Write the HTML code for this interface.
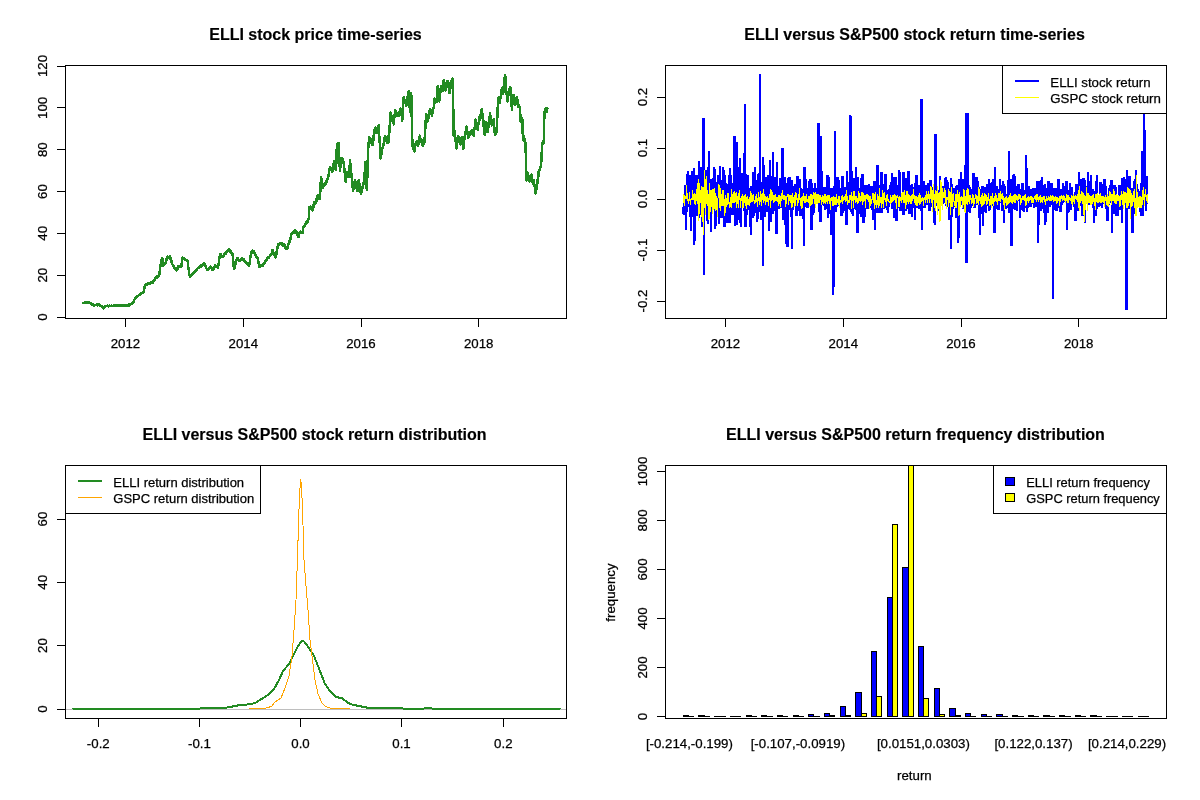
<!DOCTYPE html>
<html><head><meta charset="utf-8"><title>ELLI versus S&amp;P500</title>
<style>html,body{margin:0;padding:0;background:#fff}svg{display:block}text{font-family:"Liberation Sans", Arial, sans-serif;font-size:13.28px;fill:#000;stroke:#000;stroke-width:0.25px}.t{font-size:16px;font-weight:bold;text-anchor:middle;stroke-width:0.15px}.m{text-anchor:middle}.ax{stroke:#000;stroke-width:1;fill:none;shape-rendering:crispEdges}.cr{shape-rendering:crispEdges;fill:none;stroke-linejoin:round;stroke-linecap:round}.bv{stroke-linejoin:bevel;stroke-linecap:butt}</style></head><body>
<svg width="1200" height="800" viewBox="0 0 1200 800">
<rect width="1200" height="800" fill="#fff"/>
<text class="t" x="315.5" y="39.5">ELLI stock price time-series</text>
<path class="cr" stroke="#228B22" stroke-width="2.5" d="M83.1 303.3 83.3 302.8 83.6 302.9 83.8 302.9 84.0 302.7 84.3 302.8 84.5 302.8 84.7 302.4 85.0 303.0 85.2 302.9 85.4 302.6 85.7 302.7 85.9 302.8 86.2 302.6 86.4 302.6 86.6 302.3 86.9 302.8 87.1 302.6 87.3 302.7 87.6 302.2 87.8 302.9 88.0 302.6 88.3 302.4 88.5 303.0 88.7 302.5 89.0 302.3 89.2 302.6 89.4 302.3 89.7 303.2 89.9 303.0 90.1 303.0 90.4 303.6 90.6 303.1 90.9 303.7 91.1 303.2 91.3 303.6 91.6 303.6 91.8 304.3 92.0 304.5 92.3 304.2 92.5 304.6 92.7 304.5 93.0 304.7 93.2 304.6 93.4 304.5 93.7 304.6 93.9 305.1 94.1 305.5 94.4 305.1 94.6 304.9 94.8 305.4 95.1 305.1 95.3 305.0 95.6 305.1 95.8 305.0 96.0 304.9 96.3 304.7 96.5 305.1 96.7 305.0 97.0 305.3 97.2 304.9 97.4 304.6 97.7 305.0 97.9 305.4 98.1 304.9 98.4 304.8 98.6 304.7 98.8 304.8 99.1 304.9 99.3 304.7 99.5 305.3 99.8 304.9 100.0 305.0 100.3 305.5 100.5 305.7 100.7 305.6 101.0 305.9 101.2 306.1 101.4 306.1 101.7 306.0 101.9 306.7 102.1 306.9 102.4 307.0 102.6 307.0 102.8 307.3 103.1 307.4 103.3 307.7 103.5 308.2 103.8 308.4 104.0 307.9 104.2 307.6 104.5 307.4 104.7 307.0 105.0 306.7 105.2 306.3 105.4 306.2 105.7 306.5 105.9 306.2 106.1 305.9 106.4 305.9 106.6 305.8 106.8 306.1 107.1 306.1 107.3 305.7 107.5 306.1 107.8 305.8 108.0 306.2 108.2 306.0 108.5 306.3 108.7 305.8 108.9 305.9 109.2 306.0 109.4 306.1 109.7 306.0 109.9 305.7 110.1 305.9 110.4 305.9 110.6 305.8 110.8 305.8 111.1 306.2 111.3 305.8 111.5 305.7 111.8 306.0 112.0 305.9 112.2 305.8 112.5 306.0 112.7 306.0 112.9 305.9 113.2 306.0 113.4 305.9 113.6 305.7 113.9 305.8 114.1 305.7 114.4 305.9 114.6 305.6 114.8 305.4 115.1 305.8 115.3 305.5 115.5 305.4 115.8 305.9 116.0 305.6 116.2 305.9 116.5 305.7 116.7 305.5 116.9 305.5 117.2 305.6 117.4 305.7 117.6 305.6 117.9 305.7 118.1 305.4 118.3 305.7 118.6 305.3 118.8 305.6 119.1 305.8 119.3 305.9 119.5 306.0 119.8 305.3 120.0 305.8 120.2 305.8 120.5 305.8 120.7 305.4 120.9 305.6 121.2 305.9 121.4 305.2 121.6 305.6 121.9 305.7 122.1 305.3 122.3 305.6 122.6 305.2 122.8 305.3 123.0 305.2 123.3 305.4 123.5 305.4 123.8 305.6 124.0 305.2 124.2 305.3 124.5 305.5 124.7 305.4 124.9 305.0 125.2 305.4 125.4 305.2 125.6 305.3 125.9 305.3 126.1 305.5 126.3 305.2 126.6 304.8 126.8 304.9 127.0 305.3 127.3 305.1 127.5 305.4 127.7 305.2 128.0 305.0 128.2 305.3 128.5 304.9 128.7 304.6 128.9 305.5 129.2 304.6 129.4 305.2 129.6 305.2 129.9 305.0 130.1 304.6 130.3 304.9 130.6 304.2 130.8 304.0 131.0 304.1 131.3 304.1 131.5 303.8 131.7 303.7 132.0 303.3 132.2 303.1 132.4 302.7 132.7 302.7 132.9 302.7 133.2 302.3 133.4 302.3 133.6 301.9 133.9 301.3 134.1 300.6 134.3 299.6 134.6 299.4 134.8 299.0 135.0 299.2 135.3 298.5 135.5 298.2 135.7 297.8 136.0 297.8 136.2 297.7 136.4 297.1 136.7 297.1 136.9 297.0 137.1 296.6 137.4 296.2 137.6 296.4 137.9 295.9 138.1 295.8 138.3 295.7 138.6 295.5 138.8 294.9 139.0 294.7 139.3 294.8 139.5 294.5 139.7 293.9 140.0 294.6 140.2 294.1 140.4 294.2 140.7 293.5 140.9 294.0 141.1 293.4 141.4 293.3 141.6 292.8 141.8 293.0 142.1 292.9 142.3 292.7 142.6 292.8 142.8 292.5 143.0 292.6 143.3 292.1 143.5 291.8 143.7 291.9 144.0 290.9 144.2 289.8 144.4 288.4 144.7 286.3 144.9 285.6 145.1 285.4 145.4 284.9 145.6 284.6 145.8 284.8 146.1 284.5 146.3 284.8 146.5 284.5 146.8 284.9 147.0 284.5 147.3 284.0 147.5 284.4 147.7 284.4 148.0 283.8 148.2 283.8 148.4 283.1 148.7 284.1 148.9 283.5 149.1 282.9 149.4 283.0 149.6 283.4 149.8 283.6 150.1 283.3 150.3 283.4 150.5 282.8 150.8 282.6 151.0 283.3 151.2 283.1 151.5 282.8 151.7 283.2 152.0 282.4 152.2 282.5 152.4 282.9 152.7 282.9 152.9 282.0 153.1 282.2 153.4 281.1 153.6 281.1 153.8 280.7 154.1 279.9 154.3 280.2 154.5 280.1 154.8 279.4 155.0 279.1 155.2 279.3 155.5 278.1 155.7 277.7 155.9 277.7 156.2 277.2 156.4 277.8 156.7 277.3 156.9 276.7 157.1 276.6 157.4 277.7 157.6 276.2 157.8 276.0 158.1 276.2 158.3 276.1 158.5 275.8 158.8 275.2 159.0 274.9 159.2 275.3 159.5 274.2 159.7 271.2 159.9 269.9 160.2 267.3 160.4 265.5 160.6 264.5 160.9 263.8 161.1 262.4 161.4 261.2 161.6 260.9 161.8 259.2 162.1 259.1 162.3 257.9 162.5 260.7 162.8 263.0 163.0 266.0 163.2 265.6 163.5 265.1 163.7 265.1 163.9 264.5 164.2 264.4 164.4 264.5 164.6 264.3 164.9 264.3 165.1 262.9 165.3 264.0 165.6 263.4 165.8 261.8 166.1 260.1 166.3 260.4 166.5 259.8 166.8 258.0 167.0 258.4 167.2 257.6 167.5 256.6 167.7 257.2 167.9 257.5 168.2 256.8 168.4 257.2 168.6 256.9 168.9 256.9 169.1 257.3 169.3 257.6 169.6 257.1 169.8 256.4 170.0 257.9 170.3 257.5 170.5 258.9 170.8 260.3 171.0 260.1 171.2 260.2 171.5 260.7 171.7 262.5 171.9 262.6 172.2 263.5 172.4 264.3 172.6 264.5 172.9 265.0 173.1 265.4 173.3 265.1 173.6 266.4 173.8 267.5 174.0 267.7 174.3 268.1 174.5 268.1 174.7 268.4 175.0 268.8 175.2 268.3 175.5 268.7 175.7 268.4 175.9 269.6 176.2 269.4 176.4 269.8 176.6 270.4 176.9 270.4 177.1 269.6 177.3 269.4 177.6 268.1 177.8 268.3 178.0 267.7 178.3 266.5 178.5 267.3 178.7 266.0 179.0 266.6 179.2 266.2 179.4 266.8 179.7 267.0 179.9 266.2 180.2 266.0 180.4 266.6 180.6 267.1 180.9 266.6 181.1 266.6 181.3 266.5 181.6 263.5 181.8 262.7 182.0 260.8 182.3 259.9 182.5 257.8 182.7 257.7 183.0 258.2 183.2 257.8 183.4 258.6 183.7 258.4 183.9 258.6 184.1 258.6 184.4 259.5 184.6 259.1 184.9 259.5 185.1 259.6 185.3 259.1 185.6 259.9 185.8 259.9 186.0 260.0 186.3 259.8 186.5 259.9 186.7 260.6 187.0 261.3 187.2 260.1 187.4 260.8 187.7 261.8 187.9 264.0 188.1 265.7 188.4 267.7 188.6 267.9 188.8 270.6 189.1 272.2 189.3 274.4 189.6 275.1 189.8 275.6 190.0 276.5 190.3 276.7 190.5 274.8 190.7 275.5 191.0 275.6 191.2 275.2 191.4 274.9 191.7 274.3 191.9 274.3 192.1 274.7 192.4 274.7 192.6 274.1 192.8 273.5 193.1 273.7 193.3 273.4 193.5 273.5 193.8 273.1 194.0 272.6 194.3 272.6 194.5 271.8 194.7 272.3 195.0 272.2 195.2 271.0 195.4 271.3 195.7 270.5 195.9 271.1 196.1 270.7 196.4 270.0 196.6 270.2 196.8 269.4 197.1 269.0 197.3 268.8 197.5 268.7 197.8 268.3 198.0 268.3 198.2 267.7 198.5 268.1 198.7 268.1 199.0 267.3 199.2 266.8 199.4 267.5 199.7 267.5 199.9 266.8 200.1 266.2 200.4 266.6 200.6 267.0 200.8 265.4 201.1 266.2 201.3 265.8 201.5 265.4 201.8 265.8 202.0 264.9 202.2 265.4 202.5 265.6 202.7 265.0 202.9 264.4 203.2 263.8 203.4 263.9 203.7 263.5 203.9 264.8 204.1 263.8 204.4 263.3 204.6 263.6 204.8 264.2 205.1 264.9 205.3 265.0 205.5 266.7 205.8 266.2 206.0 266.7 206.2 267.6 206.5 268.5 206.7 268.9 206.9 268.7 207.2 269.5 207.4 269.9 207.6 270.1 207.9 269.7 208.1 269.0 208.4 268.6 208.6 269.0 208.8 268.2 209.1 269.0 209.3 268.2 209.5 267.6 209.8 267.6 210.0 267.3 210.2 267.2 210.5 267.4 210.7 266.5 210.9 266.7 211.2 268.0 211.4 268.1 211.6 268.7 211.9 269.2 212.1 269.3 212.3 270.1 212.6 269.5 212.8 269.6 213.1 268.9 213.3 268.4 213.5 268.8 213.8 268.4 214.0 267.1 214.2 267.1 214.5 267.3 214.7 267.3 214.9 266.3 215.2 266.1 215.4 265.3 215.6 266.7 215.9 266.0 216.1 266.4 216.3 266.4 216.6 266.7 216.8 266.8 217.0 266.6 217.3 267.2 217.5 267.1 217.8 267.8 218.0 267.1 218.2 266.4 218.5 265.2 218.7 263.7 218.9 261.6 219.2 259.5 219.4 258.0 219.6 256.2 219.9 255.6 220.1 254.3 220.3 254.8 220.6 254.6 220.8 254.5 221.0 255.6 221.3 256.1 221.5 255.9 221.7 255.9 222.0 256.8 222.2 256.4 222.5 257.2 222.7 256.3 222.9 255.9 223.2 256.4 223.4 256.0 223.6 256.4 223.9 255.1 224.1 255.0 224.3 254.2 224.6 253.5 224.8 253.3 225.0 254.1 225.3 253.0 225.5 253.8 225.7 253.7 226.0 252.6 226.2 253.3 226.4 252.3 226.7 252.4 226.9 251.5 227.2 251.8 227.4 250.6 227.6 251.1 227.9 250.2 228.1 250.1 228.3 250.2 228.6 249.7 228.8 249.4 229.0 250.1 229.3 250.4 229.5 249.6 229.7 250.8 230.0 251.2 230.2 250.7 230.4 251.6 230.7 251.0 230.9 252.6 231.1 252.1 231.4 252.4 231.6 253.3 231.9 252.9 232.1 253.6 232.3 253.0 232.6 254.1 232.8 256.0 233.0 258.8 233.3 261.7 233.5 263.6 233.7 266.2 234.0 267.7 234.2 268.6 234.4 267.8 234.7 267.3 234.9 266.3 235.1 265.2 235.4 264.5 235.6 263.2 235.8 262.3 236.1 262.0 236.3 260.2 236.6 259.6 236.8 259.3 237.0 258.3 237.3 258.9 237.5 258.6 237.7 260.0 238.0 258.4 238.2 259.2 238.4 259.6 238.7 261.1 238.9 260.8 239.1 260.8 239.4 260.6 239.6 261.2 239.8 260.9 240.1 260.4 240.3 259.8 240.5 259.8 240.8 260.2 241.0 260.1 241.3 259.8 241.5 259.5 241.7 258.6 242.0 259.2 242.2 258.5 242.4 258.8 242.7 259.2 242.9 258.9 243.1 259.0 243.4 260.2 243.6 260.2 243.8 260.0 244.1 259.2 244.3 260.8 244.5 261.4 244.8 261.9 245.0 261.4 245.2 261.7 245.5 262.0 245.7 262.9 246.0 262.2 246.2 263.0 246.4 262.8 246.7 263.5 246.9 262.8 247.1 263.8 247.4 263.6 247.6 263.8 247.8 264.3 248.1 264.7 248.3 263.6 248.5 264.9 248.8 264.9 249.0 264.6 249.2 265.5 249.5 264.5 249.7 263.1 249.9 260.4 250.2 258.5 250.4 257.6 250.7 256.2 250.9 253.7 251.1 252.9 251.4 252.1 251.6 251.5 251.8 251.9 252.1 252.6 252.3 250.8 252.5 251.3 252.8 250.5 253.0 251.4 253.2 251.9 253.5 251.2 253.7 252.0 253.9 253.2 254.2 252.9 254.4 252.7 254.6 253.0 254.9 253.1 255.1 254.8 255.4 254.4 255.6 255.6 255.8 255.9 256.1 255.5 256.3 256.0 256.5 257.0 256.8 257.0 257.0 257.4 257.2 256.9 257.5 258.5 257.7 258.6 257.9 259.0 258.2 260.7 258.4 262.2 258.6 263.9 258.9 263.9 259.1 264.5 259.3 266.9 259.6 266.3 259.8 266.0 260.1 265.6 260.3 265.5 260.5 266.5 260.8 265.7 261.0 265.5 261.2 265.4 261.5 266.2 261.7 265.2 261.9 265.7 262.2 265.4 262.4 265.3 262.6 264.8 262.9 265.4 263.1 265.7 263.3 264.6 263.6 263.9 263.8 263.4 264.0 263.7 264.3 263.1 264.5 262.9 264.8 262.6 265.0 261.6 265.2 262.2 265.5 261.6 265.7 261.1 265.9 260.9 266.2 260.9 266.4 260.2 266.6 259.4 266.9 260.0 267.1 259.0 267.3 258.6 267.6 257.9 267.8 258.4 268.0 257.6 268.3 257.6 268.5 257.8 268.7 257.3 269.0 257.5 269.2 256.9 269.5 256.3 269.7 256.1 269.9 255.7 270.2 256.0 270.4 255.5 270.6 255.0 270.9 255.3 271.1 254.7 271.3 254.2 271.6 253.4 271.8 254.1 272.0 253.0 272.3 251.4 272.5 249.8 272.7 250.2 273.0 251.0 273.2 251.8 273.4 252.2 273.7 252.8 273.9 253.2 274.2 254.2 274.4 254.7 274.6 254.8 274.9 256.1 275.1 256.6 275.3 257.2 275.6 257.4 275.8 256.4 276.0 254.8 276.3 254.5 276.5 251.9 276.7 251.6 277.0 250.5 277.2 249.9 277.4 248.3 277.7 246.6 277.9 245.2 278.1 244.6 278.4 244.8 278.6 244.6 278.9 244.3 279.1 243.9 279.3 244.0 279.6 244.4 279.8 243.1 280.0 243.6 280.3 244.2 280.5 243.5 280.7 243.0 281.0 243.7 281.2 243.1 281.4 243.7 281.7 244.7 281.9 245.0 282.1 243.3 282.4 244.7 282.6 245.6 282.8 244.4 283.1 245.0 283.3 245.8 283.6 245.0 283.8 245.6 284.0 245.5 284.3 244.7 284.5 246.1 284.7 246.0 285.0 246.7 285.2 247.7 285.4 247.3 285.7 247.2 285.9 248.0 286.1 248.2 286.4 249.1 286.6 248.2 286.8 248.7 287.1 247.8 287.3 248.4 287.5 247.4 287.8 246.4 288.0 245.6 288.3 245.0 288.5 244.1 288.7 243.7 289.0 242.8 289.2 243.1 289.4 241.8 289.7 240.4 289.9 239.8 290.1 240.0 290.4 238.9 290.6 238.0 290.8 237.5 291.1 237.3 291.3 234.9 291.5 234.4 291.8 233.1 292.0 233.9 292.2 233.2 292.5 232.9 292.7 232.6 293.0 233.3 293.2 232.6 293.4 232.1 293.7 233.0 293.9 231.4 294.1 231.1 294.4 233.2 294.6 231.2 294.8 230.9 295.1 230.6 295.3 230.8 295.5 231.1 295.8 231.4 296.0 231.8 296.2 231.8 296.5 231.6 296.7 233.2 296.9 234.5 297.2 234.7 297.4 234.5 297.7 235.6 297.9 235.4 298.1 236.1 298.4 235.9 298.6 237.0 298.8 236.9 299.1 234.7 299.3 233.2 299.5 233.1 299.8 232.8 300.0 231.8 300.2 231.6 300.5 231.7 300.7 231.6 300.9 232.2 301.2 232.5 301.4 232.4 301.6 232.5 301.9 232.5 302.1 232.3 302.4 232.0 302.6 232.8 302.8 230.4 303.1 227.3 303.3 226.7 303.5 226.5 303.8 226.6 304.0 227.0 304.2 226.5 304.5 226.2 304.7 225.9 304.9 225.6 305.2 225.0 305.4 224.5 305.6 223.8 305.9 222.4 306.1 223.1 306.3 224.0 306.6 222.2 306.8 221.8 307.1 222.5 307.3 221.6 307.5 220.9 307.8 221.8 308.0 220.7 308.2 220.3 308.5 218.9 308.7 219.2 308.9 215.5 309.2 211.2 309.4 207.1 309.6 207.4 309.9 207.0 310.1 207.7 310.3 206.7 310.6 208.4 310.8 208.7 311.0 208.3 311.3 208.3 311.5 209.2 311.8 208.7 312.0 210.1 312.2 210.4 312.5 209.9 312.7 209.7 312.9 209.3 313.2 208.1 313.4 206.9 313.6 204.9 313.9 203.6 314.1 202.4 314.3 202.0 314.6 203.4 314.8 203.2 315.0 203.8 315.3 204.1 315.5 202.4 315.7 203.0 316.0 201.8 316.2 202.0 316.5 201.4 316.7 198.6 316.9 198.1 317.2 197.5 317.4 195.7 317.6 195.3 317.9 195.5 318.1 197.1 318.3 195.9 318.6 197.8 318.8 197.3 319.0 198.1 319.3 199.0 319.5 197.6 319.7 197.8 320.0 199.1 320.2 193.4 320.4 188.6 320.7 184.1 320.9 179.3 321.2 177.4 321.4 179.8 321.6 182.2 321.9 184.4 322.1 183.1 322.3 187.5 322.6 188.1 322.8 186.1 323.0 185.4 323.3 186.6 323.5 185.6 323.7 185.7 324.0 185.9 324.2 184.5 324.4 184.6 324.7 184.5 324.9 184.5 325.1 184.9 325.4 184.4 325.6 182.8 325.9 182.1 326.1 183.9 326.3 182.1 326.6 181.5 326.8 179.8 327.0 181.1 327.3 179.4 327.5 179.3 327.7 178.2 328.0 178.5 328.2 178.2 328.4 175.5 328.7 174.7 328.9 174.1 329.1 171.8 329.4 170.4 329.6 169.5 329.8 167.6 330.1 168.8 330.3 167.6 330.6 169.5 330.8 170.0 331.0 168.3 331.3 169.7 331.5 169.5 331.7 169.2 332.0 170.3 332.2 170.7 332.4 171.8 332.7 171.3 332.9 168.1 333.1 167.5 333.4 167.1 333.6 166.5 333.8 161.8 334.1 164.2 334.3 161.5 334.5 163.7 334.8 163.4 335.0 164.6 335.3 167.0 335.5 169.6 335.7 170.1 336.0 169.5 336.2 167.0 336.4 158.1 336.7 152.0 336.9 145.0 337.1 144.1 337.4 144.5 337.6 144.5 337.8 144.7 338.1 145.0 338.3 144.5 338.5 143.0 338.8 144.9 339.0 151.1 339.2 156.1 339.5 160.3 339.7 165.8 340.0 171.1 340.2 169.0 340.4 164.9 340.7 159.7 340.9 160.0 341.1 161.9 341.4 162.1 341.6 162.3 341.8 158.7 342.1 161.0 342.3 158.2 342.5 162.2 342.8 161.8 343.0 162.0 343.2 162.0 343.5 163.5 343.7 162.2 343.9 165.5 344.2 167.4 344.4 169.6 344.7 172.1 344.9 174.2 345.1 175.5 345.4 179.4 345.6 181.8 345.8 179.6 346.1 178.8 346.3 177.3 346.5 173.8 346.8 173.2 347.0 172.2 347.2 172.0 347.5 173.4 347.7 172.5 347.9 173.2 348.2 174.0 348.4 174.3 348.6 174.5 348.9 176.5 349.1 174.3 349.4 175.2 349.6 168.7 349.8 164.0 350.1 160.5 350.3 163.2 350.5 164.0 350.8 166.9 351.0 170.9 351.2 172.2 351.5 175.6 351.7 176.2 351.9 180.7 352.2 182.8 352.4 184.7 352.6 186.0 352.9 188.9 353.1 191.3 353.3 190.1 353.6 188.6 353.8 187.3 354.1 186.4 354.3 186.2 354.5 182.0 354.8 181.3 355.0 179.9 355.2 181.6 355.5 181.6 355.7 184.5 355.9 185.1 356.2 185.7 356.4 186.3 356.6 187.9 356.9 188.9 357.1 190.0 357.3 190.0 357.6 191.1 357.8 187.5 358.0 187.9 358.3 182.4 358.5 182.6 358.8 180.2 359.0 183.2 359.2 182.5 359.5 186.5 359.7 184.9 359.9 189.2 360.2 189.1 360.4 190.0 360.6 191.5 360.9 194.2 361.1 193.4 361.3 190.0 361.6 191.9 361.8 190.2 362.0 187.7 362.3 188.8 362.5 186.3 362.7 186.5 363.0 185.6 363.2 184.0 363.5 184.2 363.7 181.9 363.9 182.0 364.2 180.5 364.4 179.9 364.6 176.5 364.9 169.5 365.1 163.0 365.3 162.1 365.6 166.1 365.8 171.4 366.0 176.0 366.3 180.5 366.5 185.0 366.7 189.1 367.0 189.9 367.2 181.6 367.4 171.3 367.7 163.0 367.9 154.3 368.2 148.4 368.4 146.4 368.6 142.7 368.9 141.7 369.1 138.2 369.3 137.0 369.6 137.9 369.8 139.2 370.0 140.1 370.3 139.3 370.5 138.7 370.7 141.2 371.0 141.1 371.2 142.3 371.4 142.6 371.7 143.8 371.9 144.3 372.1 145.0 372.4 144.2 372.6 145.2 372.9 142.0 373.1 141.0 373.3 141.2 373.6 138.0 373.8 134.6 374.0 135.9 374.3 133.8 374.5 132.3 374.7 129.6 375.0 128.1 375.2 127.6 375.4 127.6 375.7 130.6 375.9 128.9 376.1 129.2 376.4 129.7 376.6 132.8 376.8 132.1 377.1 130.3 377.3 129.9 377.6 129.8 377.8 129.5 378.0 126.0 378.3 128.1 378.5 126.1 378.7 124.9 379.0 128.9 379.2 134.2 379.4 139.3 379.7 141.6 379.9 146.1 380.1 148.7 380.4 154.1 380.6 158.3 380.8 154.9 381.1 154.8 381.3 155.1 381.5 151.4 381.8 151.8 382.0 151.7 382.3 148.3 382.5 148.6 382.7 148.0 383.0 147.8 383.2 144.5 383.4 145.9 383.7 144.0 383.9 143.8 384.1 142.7 384.4 140.8 384.6 139.8 384.8 136.3 385.1 136.1 385.3 136.9 385.5 138.0 385.8 139.8 386.0 137.2 386.2 139.2 386.5 138.5 386.7 138.6 387.0 142.2 387.2 141.1 387.4 143.2 387.7 143.1 387.9 141.2 388.1 140.3 388.4 142.4 388.6 137.7 388.8 134.9 389.1 134.9 389.3 132.2 389.5 128.3 389.8 125.0 390.0 121.9 390.2 118.1 390.5 115.3 390.7 112.5 390.9 113.3 391.2 115.3 391.4 115.8 391.7 117.6 391.9 116.8 392.1 117.8 392.4 117.4 392.6 121.4 392.8 118.8 393.1 121.5 393.3 121.1 393.5 123.4 393.8 124.4 394.0 119.4 394.2 118.9 394.5 114.8 394.7 116.4 394.9 111.9 395.2 110.1 395.4 111.4 395.6 114.0 395.9 114.5 396.1 114.4 396.4 112.1 396.6 113.0 396.8 115.4 397.1 112.7 397.3 113.4 397.5 112.8 397.8 112.8 398.0 115.8 398.2 115.3 398.5 115.3 398.7 115.7 398.9 115.8 399.2 115.8 399.4 113.3 399.6 112.3 399.9 110.9 400.1 112.9 400.3 110.4 400.6 108.6 400.8 109.5 401.1 109.3 401.3 110.5 401.5 114.6 401.8 116.5 402.0 120.4 402.2 120.6 402.5 115.8 402.7 113.4 402.9 110.4 403.2 106.2 403.4 100.3 403.6 97.1 403.9 99.0 404.1 96.9 404.3 100.1 404.6 100.8 404.8 100.5 405.0 100.5 405.3 102.9 405.5 102.4 405.8 104.2 406.0 105.4 406.2 105.3 406.5 104.9 406.7 103.5 406.9 101.1 407.2 101.2 407.4 99.4 407.6 96.6 407.9 97.3 408.1 96.1 408.3 94.5 408.6 91.3 408.8 95.1 409.0 98.6 409.3 102.2 409.5 105.4 409.7 107.1 410.0 112.4 410.2 108.0 410.5 108.4 410.7 101.5 410.9 99.5 411.2 93.1 411.4 98.9 411.6 110.6 411.9 123.0 412.1 131.9 412.3 140.4 412.6 144.4 412.8 147.8 413.0 146.0 413.3 149.0 413.5 149.5 413.7 148.7 414.0 149.2 414.2 147.2 414.4 151.3 414.7 148.0 414.9 148.0 415.2 145.2 415.4 145.2 415.6 143.2 415.9 143.4 416.1 142.8 416.3 142.3 416.6 142.7 416.8 140.9 417.0 140.8 417.3 141.6 417.5 144.7 417.7 142.9 418.0 145.7 418.2 142.4 418.4 142.5 418.7 142.8 418.9 141.1 419.1 143.4 419.4 141.9 419.6 136.3 419.9 135.7 420.1 136.4 420.3 139.4 420.6 139.7 420.8 139.7 421.0 138.8 421.3 140.3 421.5 139.3 421.7 141.5 422.0 144.2 422.2 144.6 422.4 142.4 422.7 143.9 422.9 145.5 423.1 143.9 423.4 143.4 423.6 144.4 423.8 144.3 424.1 143.8 424.3 143.2 424.6 140.3 424.8 136.4 425.0 131.2 425.3 128.9 425.5 124.6 425.7 121.0 426.0 118.3 426.2 114.0 426.4 114.7 426.7 115.5 426.9 116.9 427.1 122.0 427.4 120.6 427.6 121.2 427.8 119.6 428.1 119.6 428.3 118.5 428.5 118.0 428.8 115.2 429.0 112.0 429.3 113.2 429.5 112.8 429.7 110.3 430.0 108.8 430.2 110.1 430.4 111.9 430.7 110.9 430.9 110.0 431.1 111.8 431.4 113.1 431.6 111.8 431.8 115.7 432.1 113.4 432.3 114.0 432.5 112.6 432.8 111.1 433.0 112.5 433.2 108.8 433.5 107.7 433.7 108.0 434.0 106.2 434.2 102.4 434.4 98.7 434.7 101.0 434.9 101.0 435.1 103.0 435.4 100.2 435.6 100.9 435.8 100.0 436.1 98.9 436.3 101.1 436.5 102.2 436.8 99.9 437.0 98.5 437.2 93.9 437.5 93.3 437.7 86.7 437.9 86.3 438.2 89.7 438.4 96.3 438.7 100.8 438.9 99.8 439.1 101.4 439.4 100.5 439.6 95.5 439.8 96.5 440.1 94.6 440.3 92.2 440.5 91.8 440.8 88.0 441.0 89.4 441.2 89.2 441.5 86.2 441.7 88.3 441.9 90.8 442.2 89.6 442.4 89.2 442.6 89.1 442.9 91.1 443.1 90.7 443.4 87.5 443.6 80.2 443.8 81.3 444.1 80.6 444.3 83.4 444.5 82.9 444.8 83.4 445.0 85.8 445.2 86.6 445.5 88.7 445.7 90.4 445.9 89.8 446.2 87.4 446.4 85.3 446.6 84.2 446.9 84.5 447.1 84.1 447.3 80.9 447.6 81.0 447.8 81.7 448.1 84.5 448.3 87.1 448.5 83.4 448.8 89.2 449.0 89.7 449.2 88.9 449.5 93.0 449.7 90.7 449.9 89.4 450.2 85.3 450.4 88.2 450.6 83.6 450.9 81.2 451.1 82.0 451.3 80.9 451.6 84.3 451.8 87.9 452.0 82.5 452.3 84.2 452.5 78.3 452.8 79.2 453.0 80.0 453.2 101.3 453.5 135.3 453.7 135.4 453.9 134.1 454.2 134.4 454.4 131.6 454.6 131.7 454.9 131.4 455.1 134.2 455.3 140.7 455.6 139.7 455.8 142.1 456.0 145.0 456.3 148.4 456.5 146.8 456.7 143.6 457.0 144.6 457.2 142.2 457.5 141.9 457.7 137.6 457.9 136.8 458.2 138.3 458.4 136.3 458.6 139.3 458.9 139.9 459.1 140.3 459.3 141.1 459.6 141.7 459.8 142.5 460.0 142.0 460.3 141.8 460.5 144.3 460.7 141.8 461.0 140.6 461.2 139.7 461.4 137.9 461.7 138.3 461.9 137.4 462.2 140.7 462.4 140.6 462.6 141.0 462.9 144.9 463.1 148.2 463.3 148.7 463.6 145.8 463.8 142.3 464.0 141.7 464.3 139.5 464.5 139.0 464.7 136.8 465.0 134.6 465.2 135.3 465.4 133.5 465.7 131.5 465.9 130.5 466.1 130.9 466.4 127.2 466.6 126.6 466.9 129.5 467.1 128.1 467.3 132.3 467.6 132.0 467.8 133.4 468.0 135.9 468.3 137.9 468.5 134.9 468.7 136.5 469.0 135.5 469.2 133.3 469.4 135.5 469.7 133.3 469.9 132.2 470.1 132.7 470.4 132.4 470.6 133.6 470.8 131.8 471.1 134.0 471.3 132.3 471.6 130.9 471.8 130.5 472.0 131.8 472.3 129.9 472.5 130.4 472.7 132.5 473.0 134.8 473.2 135.0 473.4 135.4 473.7 135.8 473.9 132.4 474.1 132.2 474.4 128.3 474.6 129.1 474.8 125.9 475.1 123.6 475.3 121.9 475.5 119.6 475.8 120.1 476.0 121.6 476.3 121.9 476.5 122.5 476.7 125.8 477.0 128.5 477.2 129.4 477.4 129.3 477.7 129.7 477.9 127.1 478.1 126.7 478.4 124.1 478.6 123.6 478.8 124.4 479.1 121.6 479.3 121.1 479.5 117.3 479.8 116.5 480.0 116.4 480.2 116.2 480.5 114.4 480.7 115.0 481.0 112.3 481.2 113.7 481.4 112.4 481.7 108.9 481.9 110.1 482.1 111.4 482.4 115.2 482.6 115.7 482.8 119.0 483.1 121.6 483.3 119.9 483.5 123.1 483.8 127.5 484.0 129.4 484.2 132.8 484.5 134.0 484.7 134.5 484.9 134.8 485.2 131.4 485.4 129.8 485.7 127.4 485.9 126.2 486.1 122.0 486.4 122.2 486.6 123.0 486.8 130.2 487.1 128.7 487.3 131.0 487.5 132.2 487.8 130.9 488.0 129.3 488.2 128.7 488.5 126.4 488.7 124.8 488.9 121.9 489.2 120.7 489.4 120.4 489.6 117.1 489.9 115.7 490.1 112.7 490.4 117.2 490.6 118.4 490.8 121.1 491.1 117.8 491.3 122.5 491.5 123.8 491.8 125.5 492.0 125.1 492.2 125.1 492.5 124.7 492.7 123.0 492.9 121.7 493.2 120.8 493.4 119.6 493.6 119.2 493.9 119.7 494.1 121.5 494.3 128.7 494.6 128.4 494.8 133.6 495.1 134.6 495.3 135.0 495.5 133.4 495.8 133.7 496.0 132.0 496.2 130.7 496.5 131.7 496.7 132.1 496.9 129.2 497.2 121.1 497.4 111.8 497.6 108.3 497.9 106.4 498.1 102.4 498.3 101.8 498.6 98.0 498.8 97.0 499.0 97.1 499.3 98.2 499.5 100.3 499.8 101.7 500.0 102.8 500.2 99.5 500.5 98.2 500.7 97.4 500.9 93.3 501.2 95.4 501.4 92.7 501.6 90.7 501.9 87.9 502.1 90.6 502.3 90.2 502.6 94.0 502.8 93.0 503.0 91.5 503.3 92.8 503.5 88.7 503.7 86.4 504.0 84.3 504.2 82.1 504.5 80.2 504.7 78.6 504.9 75.7 505.2 75.5 505.4 77.8 505.6 81.7 505.9 86.5 506.1 90.3 506.3 94.3 506.6 92.0 506.8 95.7 507.0 97.2 507.3 98.9 507.5 101.3 507.7 99.1 508.0 97.5 508.2 95.3 508.4 95.0 508.7 94.3 508.9 94.1 509.2 90.6 509.4 89.3 509.6 89.7 509.9 88.3 510.1 90.2 510.3 87.0 510.6 87.6 510.8 89.1 511.0 94.5 511.3 99.3 511.5 105.0 511.7 106.3 512.0 109.8 512.2 105.0 512.4 104.4 512.7 103.1 512.9 101.7 513.1 101.2 513.4 99.7 513.6 95.0 513.9 97.6 514.1 97.1 514.3 102.6 514.6 102.2 514.8 103.7 515.0 104.6 515.3 103.7 515.5 102.8 515.7 100.9 516.0 101.7 516.2 100.1 516.4 99.8 516.7 97.7 516.9 97.8 517.1 97.2 517.4 104.2 517.6 100.0 517.8 101.7 518.1 104.8 518.3 106.5 518.6 105.3 518.8 105.3 519.0 105.7 519.3 106.2 519.5 106.4 519.7 107.2 520.0 108.7 520.2 113.3 520.4 116.7 520.7 121.7 520.9 121.5 521.1 121.6 521.4 119.2 521.6 118.0 521.8 119.2 522.1 119.6 522.3 118.7 522.5 128.5 522.8 135.1 523.0 139.8 523.3 140.2 523.5 140.3 523.7 139.6 524.0 139.7 524.2 136.4 524.4 140.3 524.7 141.6 524.9 139.8 525.1 140.0 525.4 143.3 525.6 145.6 525.8 155.5 526.1 163.9 526.3 172.8 526.5 180.3 526.8 180.1 527.0 178.0 527.2 174.7 527.5 172.8 527.7 173.6 528.0 174.3 528.2 174.6 528.4 177.0 528.7 176.5 528.9 180.1 529.1 179.2 529.4 181.5 529.6 179.9 529.8 180.0 530.1 178.7 530.3 178.6 530.5 176.6 530.8 175.1 531.0 175.5 531.2 174.6 531.5 175.0 531.7 177.1 531.9 177.7 532.2 180.6 532.4 181.6 532.7 182.1 532.9 183.9 533.1 181.3 533.4 181.0 533.6 180.8 533.8 180.4 534.1 181.7 534.3 184.6 534.5 186.4 534.8 184.7 535.0 188.7 535.2 190.2 535.5 191.7 535.7 193.4 535.9 190.7 536.2 190.5 536.4 188.0 536.6 186.8 536.9 186.5 537.1 183.9 537.4 183.1 537.6 180.8 537.8 179.1 538.1 178.6 538.3 176.6 538.5 173.2 538.8 171.3 539.0 174.0 539.2 170.4 539.5 169.5 539.7 170.0 539.9 168.1 540.2 167.6 540.4 167.9 540.6 167.0 540.9 165.0 541.1 165.5 541.3 161.4 541.6 156.3 541.8 151.5 542.1 146.2 542.3 143.0 542.5 142.9 542.8 142.0 543.0 143.2 543.2 142.7 543.5 142.8 543.7 143.5 543.9 135.4 544.2 122.6 544.4 112.1 544.6 112.3 544.9 110.2 545.1 109.3 545.3 109.0 545.6 110.1 545.8 110.7 546.0 111.5 546.3 107.8 546.5 110.4 546.8 110.4 547.0 112.0 547.2 109.1 547.5 108.6"/>
<rect class="ax" x="65.5" y="65.5" width="501.0" height="253.0"/>
<path class="ax" d="M125.5 318.5v8.5M243.3 318.5v8.5M361.0 318.5v8.5M478.7 318.5v8.5"/>
<text class="m" x="125.5" y="347.5">2012</text>
<text class="m" x="243.3" y="347.5">2014</text>
<text class="m" x="361.0" y="347.5">2016</text>
<text class="m" x="478.7" y="347.5">2018</text>
<path class="ax" d="M65.5 317.0h-8.5M65.5 275.2h-8.5M65.5 233.3h-8.5M65.5 191.5h-8.5M65.5 149.7h-8.5M65.5 107.9h-8.5M65.5 66.0h-8.5"/>
<text class="m" transform="translate(46.7 317.0) rotate(-90)">0</text>
<text class="m" transform="translate(46.7 275.2) rotate(-90)">20</text>
<text class="m" transform="translate(46.7 233.3) rotate(-90)">40</text>
<text class="m" transform="translate(46.7 191.5) rotate(-90)">60</text>
<text class="m" transform="translate(46.7 149.7) rotate(-90)">80</text>
<text class="m" transform="translate(46.7 107.9) rotate(-90)">100</text>
<text class="m" transform="translate(46.7 66.0) rotate(-90)">120</text>
<text class="t" x="914.5" y="39.5">ELLI versus S&amp;P500 stock return time-series</text>
 <path class="cr bv" stroke="#0000FF" stroke-width="2.4" d="M683.3 214.3 683.5 207.0 683.8 210.3 684.0 209.3 684.2 208.3 684.5 214.7 684.7 200.2 684.9 194.3 685.2 189.3 685.4 200.2 685.7 185.3 685.9 229.7 686.1 214.8 686.4 202.0 686.6 212.1 686.8 209.4 687.1 196.9 687.3 200.5 687.5 179.4 687.8 171.3 688.0 193.6 688.2 201.2 688.5 200.7 688.7 199.3 688.9 191.4 689.2 207.0 689.4 191.2 689.6 201.8 689.9 184.4 690.1 180.1 690.4 174.7 690.6 200.8 690.8 230.5 691.1 217.6 691.3 202.3 691.5 214.7 691.8 217.3 692.0 203.0 692.2 210.0 692.5 189.3 692.7 171.0 692.9 201.6 693.2 194.7 693.4 216.8 693.6 196.6 693.9 207.0 694.1 168.3 694.3 244.7 694.6 175.4 694.8 217.5 695.1 212.9 695.3 198.9 695.5 194.9 695.8 194.8 696.0 197.5 696.2 209.4 696.5 187.5 696.7 196.2 696.9 216.0 697.2 174.6 697.4 203.0 697.6 184.5 697.9 216.2 698.1 213.1 698.3 205.8 698.6 207.2 698.8 161.3 699.0 218.4 699.3 196.5 699.5 211.2 699.8 190.9 700.0 195.8 700.2 205.6 700.5 166.9 700.7 199.5 700.9 181.7 701.2 215.0 701.4 200.4 701.6 197.6 701.9 196.8 702.1 203.1 702.3 208.9 702.6 226.5 702.8 205.8 703.0 210.0 703.3 202.0 703.5 185.4 703.7 118.3 704.0 274.7 704.2 182.8 704.5 189.0 704.7 187.4 704.9 189.5 705.2 202.0 705.4 202.7 705.6 193.6 705.9 170.3 706.1 186.4 706.3 173.3 706.6 214.4 706.8 194.5 707.0 192.4 707.3 190.5 707.5 215.3 707.7 221.0 708.0 224.4 708.2 203.5 708.5 166.9 708.7 195.2 708.9 213.3 709.2 151.3 709.4 202.3 709.6 195.9 709.9 204.1 710.1 214.3 710.3 205.0 710.6 187.3 710.8 231.7 711.0 179.2 711.3 211.5 711.5 181.9 711.7 197.5 712.0 195.4 712.2 178.6 712.4 200.0 712.7 194.3 712.9 188.2 713.2 188.0 713.4 185.3 713.6 177.8 713.9 189.8 714.1 203.6 714.3 166.9 714.6 198.5 714.8 192.1 715.0 170.3 715.3 228.7 715.5 207.5 715.7 196.9 716.0 189.6 716.2 197.5 716.4 185.4 716.7 182.2 716.9 182.3 717.1 197.8 717.4 196.6 717.6 200.6 717.9 208.6 718.1 175.3 718.3 213.1 718.6 198.9 718.8 194.3 719.0 223.9 719.3 186.1 719.5 202.2 719.7 194.3 720.0 166.3 720.2 216.6 720.4 194.7 720.7 196.2 720.9 182.1 721.1 190.3 721.4 218.4 721.6 180.4 721.8 185.2 722.1 185.7 722.3 190.1 722.6 206.5 722.8 189.4 723.0 202.4 723.3 166.9 723.5 200.8 723.7 211.4 724.0 202.1 724.2 175.1 724.4 204.8 724.7 226.5 724.9 174.7 725.1 192.6 725.4 203.9 725.6 186.5 725.8 209.1 726.1 212.1 726.3 182.8 726.6 204.2 726.8 189.4 727.0 197.6 727.3 184.7 727.5 196.1 727.7 222.6 728.0 187.1 728.2 203.7 728.4 183.9 728.7 196.0 728.9 175.5 729.1 201.8 729.4 222.7 729.6 201.8 729.8 189.8 730.1 168.3 730.3 203.6 730.5 174.7 730.8 199.8 731.0 181.3 731.3 195.5 731.5 215.3 731.7 209.3 732.0 201.8 732.2 193.0 732.4 207.7 732.7 214.9 732.9 210.2 733.1 204.3 733.4 208.6 733.6 205.0 733.8 168.8 734.1 193.5 734.3 136.3 734.5 198.0 734.8 173.2 735.0 187.8 735.2 225.5 735.5 214.2 735.7 218.3 736.0 202.1 736.2 199.3 736.4 217.4 736.7 141.7 736.9 198.6 737.1 224.5 737.4 218.6 737.6 198.7 737.8 189.2 738.1 193.0 738.3 182.4 738.5 173.4 738.8 184.0 739.0 201.2 739.2 166.9 739.5 171.7 739.7 183.3 739.9 158.3 740.2 191.6 740.4 222.9 740.7 202.0 740.9 226.5 741.1 203.0 741.4 181.9 741.6 197.5 741.8 172.7 742.1 197.8 742.3 196.2 742.5 201.5 742.8 189.5 743.0 198.3 743.2 179.1 743.5 172.7 743.7 191.9 743.9 211.2 744.2 189.0 744.4 176.7 744.6 187.6 744.9 104.2 745.1 183.1 745.4 177.2 745.6 226.5 745.8 174.1 746.1 185.6 746.3 190.2 746.5 204.4 746.8 194.1 747.0 188.2 747.2 215.3 747.5 186.0 747.7 196.5 747.9 174.9 748.2 187.1 748.4 199.9 748.6 196.7 748.9 187.7 749.1 195.3 749.4 189.1 749.6 206.2 749.8 212.5 750.1 204.5 750.3 214.6 750.5 206.9 750.8 235.3 751.0 217.0 751.2 212.3 751.5 186.3 751.7 204.0 751.9 197.7 752.2 212.3 752.4 210.1 752.6 201.3 752.9 172.5 753.1 190.8 753.3 217.5 753.6 190.7 753.8 183.4 754.1 187.0 754.3 212.1 754.5 198.6 754.8 166.9 755.0 208.7 755.2 192.5 755.5 206.6 755.7 212.7 755.9 202.8 756.2 181.8 756.4 179.8 756.6 208.1 756.9 203.3 757.1 208.2 757.3 222.1 757.6 188.3 757.8 173.7 758.0 174.6 758.3 203.2 758.5 177.3 758.8 180.9 759.0 201.7 759.2 197.6 759.5 202.0 759.7 193.8 759.9 74.2 760.2 208.5 760.4 211.6 760.6 184.2 760.9 196.5 761.1 219.6 761.3 209.4 761.6 207.2 761.8 204.7 762.0 192.6 762.3 182.5 762.5 199.5 762.7 195.2 763.0 265.8 763.2 157.2 763.5 177.3 763.7 200.6 763.9 206.1 764.2 166.9 764.4 183.6 764.6 207.7 764.9 216.7 765.1 200.9 765.3 179.7 765.6 203.7 765.8 200.4 766.0 203.1 766.3 187.8 766.5 176.9 766.7 211.6 767.0 200.8 767.2 199.8 767.4 204.5 767.7 210.8 767.9 185.4 768.2 195.0 768.4 186.9 768.6 175.4 768.9 201.6 769.1 230.5 769.3 202.0 769.6 198.5 769.8 192.5 770.0 160.0 770.3 214.0 770.5 175.8 770.7 195.1 771.0 210.0 771.2 221.5 771.4 197.6 771.7 188.0 771.9 183.0 772.2 181.5 772.4 201.6 772.6 188.2 772.9 214.1 773.1 152.2 773.3 184.5 773.6 204.1 773.8 199.3 774.0 195.8 774.3 195.3 774.5 176.6 774.7 209.0 775.0 178.8 775.2 210.7 775.4 204.6 775.7 205.7 775.9 198.5 776.1 202.7 776.4 190.7 776.6 233.7 776.9 167.3 777.1 162.0 777.3 200.2 777.6 192.2 777.8 189.2 778.0 199.5 778.3 209.1 778.5 205.9 778.7 194.9 779.0 186.1 779.2 190.8 779.4 198.5 779.7 189.8 779.9 202.6 780.1 193.8 780.4 178.4 780.6 182.5 780.8 179.4 781.1 201.3 781.3 194.6 781.6 207.8 781.8 185.3 782.0 201.9 782.3 148.3 782.5 202.6 782.7 194.1 783.0 219.6 783.2 211.7 783.4 184.6 783.7 196.1 783.9 198.0 784.1 213.5 784.4 177.0 784.6 184.2 784.8 188.4 785.1 208.6 785.3 190.0 785.5 182.8 785.8 243.7 786.0 200.1 786.3 202.3 786.5 189.8 786.7 200.0 787.0 200.7 787.2 211.7 787.4 246.7 787.7 185.7 787.9 177.7 788.1 186.6 788.4 179.8 788.6 202.9 788.8 198.1 789.1 192.9 789.3 199.3 789.5 176.8 789.8 210.3 790.0 203.1 790.3 201.0 790.5 204.4 790.7 187.1 791.0 216.5 791.2 183.6 791.4 186.4 791.7 193.6 791.9 180.4 792.1 249.2 792.4 195.3 792.6 188.5 792.8 192.7 793.1 191.1 793.3 202.4 793.5 204.4 793.8 190.0 794.0 202.5 794.2 186.0 794.5 187.7 794.7 201.8 795.0 192.9 795.2 196.4 795.4 198.9 795.7 183.6 795.9 196.8 796.1 194.5 796.4 215.6 796.6 190.0 796.8 210.9 797.1 201.1 797.3 177.8 797.5 175.7 797.8 201.2 798.0 209.2 798.2 192.4 798.5 201.2 798.7 193.2 798.9 209.9 799.2 183.8 799.4 178.6 799.7 210.8 799.9 204.6 800.1 203.9 800.4 188.4 800.6 215.6 800.8 194.7 801.1 199.6 801.3 204.8 801.5 188.8 801.8 215.4 802.0 210.0 802.2 204.7 802.5 188.7 802.7 200.7 802.9 205.1 803.2 191.5 803.4 201.9 803.6 203.4 803.9 245.5 804.1 193.1 804.4 166.9 804.6 207.4 804.8 193.9 805.1 198.9 805.3 199.8 805.5 179.1 805.8 187.9 806.0 189.1 806.2 201.5 806.5 205.1 806.7 193.6 806.9 200.0 807.2 202.5 807.4 189.1 807.6 208.2 807.9 203.9 808.1 187.7 808.3 197.9 808.6 189.1 808.8 205.0 809.1 188.7 809.3 203.7 809.5 181.0 809.8 187.6 810.0 191.5 810.2 178.9 810.5 192.8 810.7 202.9 810.9 178.7 811.2 192.8 811.4 182.6 811.6 229.7 811.9 183.3 812.1 204.9 812.3 208.5 812.6 209.7 812.8 187.9 813.1 214.7 813.3 213.0 813.5 209.8 813.8 194.0 814.0 191.7 814.2 204.4 814.5 187.6 814.7 193.0 814.9 182.7 815.2 185.8 815.4 203.2 815.6 194.4 815.9 198.6 816.1 191.3 816.3 194.3 816.6 196.4 816.8 188.5 817.0 195.9 817.3 188.2 817.5 196.2 817.8 198.4 818.0 186.0 818.2 185.7 818.5 182.4 818.7 123.3 818.9 198.9 819.2 194.4 819.4 194.8 819.6 212.4 819.9 206.9 820.1 179.2 820.3 136.3 820.6 221.9 820.8 198.0 821.0 194.8 821.3 207.8 821.5 170.8 821.7 183.8 822.0 187.4 822.2 198.7 822.5 191.2 822.7 187.1 822.9 191.3 823.2 202.9 823.4 194.5 823.6 195.2 823.9 193.4 824.1 206.1 824.3 193.8 824.6 196.7 824.8 194.1 825.0 194.5 825.3 209.6 825.5 187.2 825.7 188.4 826.0 208.7 826.2 197.9 826.4 204.5 826.7 201.1 826.9 185.7 827.2 191.0 827.4 174.8 827.6 195.9 827.9 206.9 828.1 195.7 828.3 218.2 828.6 177.2 828.8 194.2 829.0 192.2 829.3 195.5 829.5 204.8 829.7 198.5 830.0 204.2 830.2 201.9 830.4 193.7 830.7 207.9 830.9 234.7 831.2 206.8 831.4 188.3 831.6 203.2 831.9 208.3 832.1 193.4 832.3 195.9 832.6 199.8 832.8 198.4 833.0 203.3 833.3 294.7 833.5 202.1 833.7 197.7 834.0 185.7 834.2 209.3 834.4 203.0 834.7 203.9 834.9 131.3 835.1 209.6 835.4 200.6 835.6 196.5 835.9 199.2 836.1 211.7 836.3 190.8 836.6 190.6 836.8 197.5 837.0 206.7 837.3 205.6 837.5 177.0 837.7 179.5 838.0 193.2 838.2 206.1 838.4 184.6 838.7 196.5 838.9 180.1 839.1 203.2 839.4 193.3 839.6 200.2 839.8 190.2 840.1 203.7 840.3 188.4 840.6 201.7 840.8 205.9 841.0 192.3 841.3 195.9 841.5 216.1 841.7 198.8 842.0 197.3 842.2 196.4 842.4 176.2 842.7 203.8 842.9 198.6 843.1 212.6 843.4 210.6 843.6 203.2 843.8 199.6 844.1 200.1 844.3 191.6 844.5 190.6 844.8 187.5 845.0 199.8 845.3 193.2 845.5 204.4 845.7 194.6 846.0 193.3 846.2 202.7 846.4 225.2 846.7 203.9 846.9 170.6 847.1 199.3 847.4 203.8 847.6 197.4 847.8 186.5 848.1 194.9 848.3 200.2 848.5 209.1 848.8 201.0 849.0 208.4 849.2 194.7 849.5 182.3 849.7 187.2 850.0 115.3 850.2 206.6 850.4 210.0 850.7 193.8 850.9 192.4 851.1 116.0 851.4 194.9 851.6 208.5 851.8 214.4 852.1 186.6 852.3 205.5 852.5 178.2 852.8 215.9 853.0 207.7 853.2 206.3 853.5 195.8 853.7 191.5 854.0 203.1 854.2 192.3 854.4 209.3 854.7 202.7 854.9 208.6 855.1 203.2 855.4 203.9 855.6 195.4 855.8 166.9 856.1 209.9 856.3 200.3 856.5 191.4 856.8 198.0 857.0 183.6 857.2 207.0 857.5 177.5 857.7 232.5 857.9 232.5 858.2 196.9 858.4 196.1 858.7 203.4 858.9 213.7 859.1 207.7 859.4 191.2 859.6 200.8 859.8 190.9 860.1 209.4 860.3 191.9 860.5 188.0 860.8 216.6 861.0 195.3 861.2 178.1 861.5 204.8 861.7 188.1 861.9 198.3 862.2 189.6 862.4 174.2 862.6 204.9 862.9 202.1 863.1 201.6 863.4 223.3 863.6 205.7 863.8 187.0 864.1 203.3 864.3 208.4 864.5 206.2 864.8 193.5 865.0 216.6 865.2 193.4 865.5 191.1 865.7 185.2 865.9 202.1 866.2 205.2 866.4 196.8 866.6 197.1 866.9 184.8 867.1 198.0 867.3 202.0 867.6 209.3 867.8 200.2 868.1 197.8 868.3 186.2 868.5 197.5 868.8 184.4 869.0 185.6 869.2 204.7 869.5 207.7 869.7 203.6 869.9 200.4 870.2 205.0 870.4 191.2 870.6 191.5 870.9 185.9 871.1 195.6 871.3 202.0 871.6 194.3 871.8 205.8 872.0 197.0 872.3 204.6 872.5 186.5 872.8 219.7 873.0 189.7 873.2 189.3 873.5 198.8 873.7 195.0 873.9 196.4 874.2 185.0 874.4 181.3 874.6 198.4 874.9 181.5 875.1 229.5 875.3 194.2 875.6 193.9 875.8 208.5 876.0 195.1 876.3 203.8 876.5 190.3 876.8 205.5 877.0 212.5 877.2 208.8 877.5 165.3 877.7 195.3 877.9 195.0 878.2 204.5 878.4 190.3 878.6 202.8 878.9 200.2 879.1 188.4 879.3 199.8 879.6 213.3 879.8 191.1 880.0 198.5 880.3 201.5 880.5 185.2 880.7 203.4 881.0 191.8 881.2 197.1 881.5 171.8 881.7 212.6 881.9 196.5 882.2 194.9 882.4 187.2 882.6 201.8 882.9 203.5 883.1 184.3 883.3 201.8 883.6 195.6 883.8 198.9 884.0 194.6 884.3 209.1 884.5 202.7 884.7 198.9 885.0 197.4 885.2 187.3 885.4 193.3 885.7 174.2 885.9 198.9 886.2 185.7 886.4 203.2 886.6 199.3 886.9 210.1 887.1 206.7 887.3 189.9 887.6 198.9 887.8 212.9 888.0 198.9 888.3 200.4 888.5 207.3 888.7 195.2 889.0 200.6 889.2 198.5 889.4 189.0 889.7 203.3 889.9 187.6 890.1 200.6 890.4 200.5 890.6 185.5 890.9 194.7 891.1 201.7 891.3 199.5 891.6 196.4 891.8 173.3 892.0 191.8 892.3 198.6 892.5 208.5 892.7 205.8 893.0 189.9 893.2 208.3 893.4 177.0 893.7 206.8 893.9 196.5 894.1 218.2 894.4 199.1 894.6 202.6 894.9 193.8 895.1 196.7 895.3 201.2 895.6 177.1 895.8 191.0 896.0 204.3 896.3 195.2 896.5 220.8 896.7 203.2 897.0 186.3 897.2 203.0 897.4 197.4 897.7 207.6 897.9 191.0 898.1 197.7 898.4 198.8 898.6 189.5 898.8 182.5 899.1 190.9 899.3 170.3 899.6 195.0 899.8 196.3 900.0 207.6 900.3 211.2 900.5 202.0 900.7 201.2 901.0 199.4 901.2 204.5 901.4 197.5 901.7 196.1 901.9 201.1 902.1 195.2 902.4 203.4 902.6 211.0 902.8 199.0 903.1 190.3 903.3 172.1 903.5 215.2 903.8 202.8 904.0 205.7 904.3 196.4 904.5 205.7 904.7 197.8 905.0 189.2 905.2 204.7 905.4 199.5 905.7 182.9 905.9 190.2 906.1 211.4 906.4 178.3 906.6 204.1 906.8 196.0 907.1 202.1 907.3 202.4 907.5 204.2 907.8 192.8 908.0 204.8 908.2 208.6 908.5 203.3 908.7 171.3 909.0 214.3 909.2 191.0 909.4 204.4 909.7 191.7 909.9 185.1 910.1 195.8 910.4 193.6 910.6 202.3 910.8 204.0 911.1 213.5 911.3 200.3 911.5 203.1 911.8 217.1 912.0 196.2 912.2 183.6 912.5 194.9 912.7 187.2 912.9 200.9 913.2 206.7 913.4 198.3 913.7 201.5 913.9 207.6 914.1 188.5 914.4 197.2 914.6 203.9 914.8 196.9 915.1 219.5 915.3 192.7 915.5 182.8 915.8 203.6 916.0 208.1 916.2 184.9 916.5 174.6 916.7 203.5 916.9 205.9 917.2 208.1 917.4 198.8 917.7 197.8 917.9 200.8 918.1 190.4 918.4 205.1 918.6 203.4 918.8 208.5 919.1 184.8 919.3 187.9 919.5 185.6 919.8 205.3 920.0 185.2 920.2 195.9 920.5 191.5 920.7 192.9 920.9 201.2 921.2 200.0 921.4 210.7 921.6 99.5 921.9 200.5 922.1 229.5 922.4 197.7 922.6 185.7 922.8 202.5 923.1 206.2 923.3 205.3 923.5 196.8 923.8 180.9 924.0 197.0 924.2 198.1 924.5 208.3 924.7 195.3 924.9 192.3 925.2 201.8 925.4 198.9 925.6 203.8 925.9 191.2 926.1 185.1 926.3 194.8 926.6 193.5 926.8 198.2 927.1 203.7 927.3 204.7 927.5 201.8 927.8 197.5 928.0 198.7 928.2 188.3 928.5 191.1 928.7 183.5 928.9 190.7 929.2 200.5 929.4 197.7 929.6 211.3 929.9 181.6 930.1 203.2 930.3 201.8 930.6 180.0 930.8 207.0 931.0 203.5 931.3 199.1 931.5 203.2 931.8 197.7 932.0 196.1 932.2 192.1 932.5 199.4 932.7 191.5 932.9 201.2 933.2 192.4 933.4 186.6 933.6 212.2 933.9 200.3 934.1 196.8 934.3 213.4 934.6 222.6 934.8 195.4 935.0 224.5 935.3 190.5 935.5 198.6 935.7 134.5 936.0 201.3 936.2 197.5 936.5 205.7 936.7 202.6 936.9 190.5 937.2 200.6 937.4 193.4 937.6 198.6 937.9 201.2 938.1 206.2 938.3 189.9 938.6 205.1 938.8 194.7 939.0 210.8 939.3 195.8 939.5 194.6 939.7 203.6 940.0 176.3 940.2 199.8 940.5 197.5 940.7 202.7 940.9 203.9 941.2 189.2 941.4 199.5 941.6 201.9 941.9 189.9 942.1 198.7 942.3 204.1 942.6 189.6 942.8 201.4 943.0 189.1 943.3 203.9 943.5 195.3 943.7 185.8 944.0 193.9 944.2 193.4 944.4 194.0 944.7 189.7 944.9 197.7 945.2 194.0 945.4 200.4 945.6 178.7 945.9 177.2 946.1 190.1 946.3 206.3 946.6 193.0 946.8 185.0 947.0 207.2 947.3 180.4 947.5 206.1 947.7 205.0 948.0 195.2 948.2 207.2 948.4 188.5 948.7 193.5 948.9 220.1 949.1 209.8 949.4 204.3 949.6 194.3 949.9 207.1 950.1 204.3 950.3 192.2 950.6 206.5 950.8 178.3 951.0 248.7 951.3 188.3 951.5 183.9 951.7 207.7 952.0 217.3 952.2 212.0 952.4 188.7 952.7 203.2 952.9 187.8 953.1 209.3 953.4 206.1 953.6 199.6 953.8 187.7 954.1 200.4 954.3 206.9 954.6 195.7 954.8 197.9 955.0 193.6 955.3 200.1 955.5 203.7 955.7 198.5 956.0 218.4 956.2 196.0 956.4 186.0 956.7 193.0 956.9 206.3 957.1 210.9 957.4 185.1 957.6 202.8 957.8 200.4 958.1 196.5 958.3 242.5 958.6 198.4 958.8 183.2 959.0 202.7 959.3 178.8 959.5 194.8 959.7 195.5 960.0 188.9 960.2 189.2 960.4 187.8 960.7 193.0 960.9 172.5 961.1 181.8 961.4 199.9 961.6 205.3 961.8 189.5 962.1 192.0 962.3 198.9 962.5 198.0 962.8 192.7 963.0 178.8 963.3 199.3 963.5 208.6 963.7 203.2 964.0 193.5 964.2 200.3 964.4 203.9 964.7 191.2 964.9 165.3 965.1 200.3 965.4 195.8 965.6 203.7 965.8 203.5 966.1 201.4 966.3 113.5 966.5 262.5 966.8 199.3 967.0 202.7 967.2 197.7 967.5 112.8 967.7 204.6 968.0 203.4 968.2 205.0 968.4 185.2 968.7 211.9 968.9 199.5 969.1 190.5 969.4 207.3 969.6 206.4 969.8 206.6 970.1 213.0 970.3 187.3 970.5 201.0 970.8 207.8 971.0 204.3 971.2 197.9 971.5 202.0 971.7 206.4 971.9 194.8 972.2 206.4 972.4 202.6 972.7 198.2 972.9 205.2 973.1 199.0 973.4 204.6 973.6 173.3 973.8 202.8 974.1 193.2 974.3 206.3 974.5 208.3 974.8 200.7 975.0 202.4 975.2 202.4 975.5 200.0 975.7 191.4 975.9 181.1 976.2 180.1 976.4 199.4 976.6 177.5 976.9 183.4 977.1 204.7 977.4 203.6 977.6 200.7 977.8 181.0 978.1 201.1 978.3 201.9 978.5 186.8 978.8 201.4 979.0 201.2 979.2 194.7 979.5 198.8 979.7 218.4 979.9 235.3 980.2 193.7 980.4 211.0 980.6 188.6 980.9 200.7 981.1 198.2 981.4 198.0 981.6 213.7 981.8 205.6 982.1 208.1 982.3 198.4 982.5 185.8 982.8 226.3 983.0 199.7 983.2 214.8 983.5 203.0 983.7 202.0 983.9 201.6 984.2 194.9 984.4 187.0 984.6 200.3 984.9 196.9 985.1 211.8 985.3 194.8 985.6 199.9 985.8 213.1 986.1 197.4 986.3 205.0 986.5 190.8 986.8 196.2 987.0 199.5 987.2 184.0 987.5 201.3 987.7 202.4 987.9 199.8 988.2 199.2 988.4 206.3 988.6 195.0 988.9 179.2 989.1 203.9 989.3 211.4 989.6 188.8 989.8 187.7 990.0 191.6 990.3 190.7 990.5 182.9 990.8 196.8 991.0 184.3 991.2 200.5 991.5 205.8 991.7 199.2 991.9 201.6 992.2 194.8 992.4 182.2 992.6 195.4 992.9 189.4 993.1 179.1 993.3 182.2 993.6 198.4 993.8 204.0 994.0 179.1 994.3 206.8 994.5 233.3 994.7 213.5 995.0 167.5 995.2 209.7 995.5 200.8 995.7 199.9 995.9 186.8 996.2 208.9 996.4 198.6 996.6 196.3 996.9 185.8 997.1 200.7 997.3 196.5 997.6 201.0 997.8 188.8 998.0 190.2 998.3 201.7 998.5 193.9 998.7 209.6 999.0 198.4 999.2 205.2 999.4 201.9 999.7 189.6 999.9 178.9 1000.2 197.0 1000.4 199.8 1000.6 201.2 1000.9 191.9 1001.1 200.1 1001.3 189.8 1001.6 184.6 1001.8 193.0 1002.0 201.5 1002.3 191.8 1002.5 203.7 1002.7 211.3 1003.0 188.2 1003.2 181.0 1003.4 186.5 1003.7 201.3 1003.9 222.8 1004.2 204.0 1004.4 193.1 1004.6 201.6 1004.9 186.0 1005.1 204.6 1005.3 194.3 1005.6 196.9 1005.8 196.6 1006.0 208.8 1006.3 199.6 1006.5 196.5 1006.7 201.7 1007.0 208.1 1007.2 202.3 1007.4 205.7 1007.7 195.8 1007.9 190.1 1008.1 196.0 1008.4 195.7 1008.6 200.2 1008.9 151.3 1009.1 212.7 1009.3 198.4 1009.6 190.9 1009.8 202.7 1010.0 192.7 1010.3 209.6 1010.5 198.6 1010.7 200.3 1011.0 194.9 1011.2 197.8 1011.4 178.7 1011.7 245.5 1011.9 209.2 1012.1 203.7 1012.4 198.3 1012.6 203.5 1012.8 203.7 1013.1 175.3 1013.3 208.5 1013.6 205.1 1013.8 185.3 1014.0 204.7 1014.3 174.0 1014.5 189.5 1014.7 201.0 1015.0 191.7 1015.2 189.8 1015.4 207.4 1015.7 210.3 1015.9 185.8 1016.1 205.7 1016.4 191.3 1016.6 193.0 1016.8 210.6 1017.1 193.3 1017.3 194.0 1017.5 187.5 1017.8 199.2 1018.0 195.0 1018.3 195.7 1018.5 200.6 1018.7 184.3 1019.0 190.4 1019.2 185.2 1019.4 195.9 1019.7 188.6 1019.9 217.5 1020.1 203.3 1020.4 190.1 1020.6 200.6 1020.8 201.7 1021.1 197.7 1021.3 209.9 1021.5 197.6 1021.8 194.7 1022.0 201.2 1022.3 206.7 1022.5 183.4 1022.7 195.3 1023.0 206.0 1023.2 203.0 1023.4 210.1 1023.7 210.9 1023.9 212.1 1024.1 204.7 1024.4 195.4 1024.6 192.5 1024.8 199.8 1025.1 190.0 1025.3 194.1 1025.5 206.8 1025.8 204.7 1026.0 196.6 1026.2 155.3 1026.5 189.5 1026.7 208.3 1027.0 212.2 1027.2 181.2 1027.4 200.9 1027.7 190.2 1027.9 198.7 1028.1 208.3 1028.4 186.6 1028.6 194.9 1028.8 185.9 1029.1 193.6 1029.3 205.6 1029.5 199.1 1029.8 190.1 1030.0 203.5 1030.2 197.3 1030.5 188.7 1030.7 207.2 1030.9 201.3 1031.2 197.3 1031.4 190.4 1031.7 199.4 1031.9 203.6 1032.1 193.9 1032.4 202.9 1032.6 195.2 1032.8 195.7 1033.1 200.1 1033.3 191.3 1033.5 188.5 1033.8 207.5 1034.0 194.2 1034.2 199.8 1034.5 200.7 1034.7 198.0 1034.9 188.5 1035.2 199.7 1035.4 200.8 1035.6 207.0 1035.9 199.8 1036.1 198.7 1036.4 205.0 1036.6 200.7 1036.8 194.5 1037.1 186.6 1037.3 200.5 1037.5 181.3 1037.8 189.9 1038.0 191.0 1038.2 242.5 1038.5 197.6 1038.7 202.6 1038.9 198.9 1039.2 197.9 1039.4 197.0 1039.6 185.1 1039.9 181.1 1040.1 193.7 1040.3 189.7 1040.6 202.8 1040.8 211.4 1041.1 198.9 1041.3 196.1 1041.5 186.2 1041.8 177.4 1042.0 195.9 1042.2 187.0 1042.5 188.6 1042.7 196.3 1042.9 191.0 1043.2 194.8 1043.4 184.8 1043.6 205.1 1043.9 213.3 1044.1 196.9 1044.3 190.1 1044.6 189.1 1044.8 224.5 1045.1 184.2 1045.3 224.5 1045.5 192.2 1045.8 202.9 1046.0 205.1 1046.2 190.0 1046.5 206.2 1046.7 207.6 1046.9 191.3 1047.2 197.1 1047.4 213.1 1047.6 188.0 1047.9 206.0 1048.1 201.0 1048.3 198.8 1048.6 181.0 1048.8 198.2 1049.0 190.3 1049.3 199.0 1049.5 193.6 1049.8 207.1 1050.0 197.9 1050.2 202.0 1050.5 204.6 1050.7 195.5 1050.9 189.2 1051.2 194.0 1051.4 200.1 1051.6 183.3 1051.9 205.2 1052.1 195.3 1052.3 193.6 1052.6 198.6 1052.8 199.7 1053.0 298.7 1053.3 201.7 1053.5 199.5 1053.7 191.8 1054.0 210.3 1054.2 187.6 1054.5 194.2 1054.7 196.2 1054.9 204.5 1055.2 200.7 1055.4 201.9 1055.6 192.4 1055.9 192.8 1056.1 188.5 1056.3 197.5 1056.6 210.9 1056.8 204.2 1057.0 200.5 1057.3 195.4 1057.5 207.7 1057.7 199.5 1058.0 197.6 1058.2 182.5 1058.4 199.4 1058.7 179.5 1058.9 198.4 1059.2 182.0 1059.4 196.3 1059.6 202.7 1059.9 193.7 1060.1 200.9 1060.3 198.7 1060.6 212.4 1060.8 195.4 1061.0 202.0 1061.3 189.0 1061.5 197.4 1061.7 200.8 1062.0 205.0 1062.2 198.2 1062.4 200.8 1062.7 203.3 1062.9 183.1 1063.2 199.3 1063.4 191.1 1063.6 186.3 1063.9 195.1 1064.1 193.3 1064.3 194.3 1064.6 190.5 1064.8 193.7 1065.0 194.3 1065.3 197.3 1065.5 201.5 1065.7 201.2 1066.0 202.5 1066.2 196.9 1066.4 187.7 1066.7 181.3 1066.9 202.3 1067.1 229.5 1067.4 198.8 1067.6 190.0 1067.9 200.6 1068.1 196.0 1068.3 213.2 1068.6 199.4 1068.8 194.5 1069.0 202.4 1069.3 208.8 1069.5 194.7 1069.7 199.2 1070.0 183.5 1070.2 202.2 1070.4 199.5 1070.7 200.9 1070.9 197.7 1071.1 210.0 1071.4 187.2 1071.6 193.2 1071.8 200.0 1072.1 200.8 1072.3 194.2 1072.6 195.5 1072.8 201.2 1073.0 199.6 1073.3 195.6 1073.5 201.2 1073.7 200.6 1074.0 201.2 1074.2 200.8 1074.4 206.8 1074.7 204.5 1074.9 195.4 1075.1 191.9 1075.4 198.8 1075.6 221.3 1075.8 207.9 1076.1 195.1 1076.3 184.4 1076.5 188.4 1076.8 199.8 1077.0 200.7 1077.3 201.2 1077.5 184.0 1077.7 196.5 1078.0 204.4 1078.2 190.5 1078.4 191.5 1078.7 211.4 1078.9 202.5 1079.1 172.5 1079.4 190.8 1079.6 206.4 1079.8 198.4 1080.1 191.1 1080.3 195.5 1080.5 205.2 1080.8 199.6 1081.0 192.8 1081.2 194.3 1081.5 204.6 1081.7 178.7 1082.0 196.5 1082.2 208.1 1082.4 200.5 1082.7 216.0 1082.9 202.8 1083.1 198.6 1083.4 178.0 1083.6 196.7 1083.8 195.2 1084.1 191.9 1084.3 180.0 1084.5 202.2 1084.8 186.8 1085.0 223.3 1085.2 185.2 1085.5 189.5 1085.7 204.3 1086.0 201.2 1086.2 200.9 1086.4 200.8 1086.7 194.4 1086.9 199.4 1087.1 203.4 1087.4 185.8 1087.6 186.6 1087.8 197.8 1088.1 172.5 1088.3 202.2 1088.5 203.1 1088.8 204.0 1089.0 204.5 1089.2 196.1 1089.5 195.6 1089.7 194.5 1089.9 204.3 1090.2 195.6 1090.4 181.2 1090.7 196.1 1090.9 200.7 1091.1 174.9 1091.4 195.4 1091.6 202.3 1091.8 190.6 1092.1 202.8 1092.3 200.5 1092.5 189.5 1092.8 202.1 1093.0 207.8 1093.2 192.0 1093.5 190.9 1093.7 207.2 1093.9 200.4 1094.2 222.5 1094.4 195.9 1094.6 190.9 1094.9 198.9 1095.1 202.3 1095.4 201.8 1095.6 200.1 1095.8 196.4 1096.1 215.7 1096.3 210.6 1096.5 197.9 1096.8 175.3 1097.0 202.4 1097.2 197.8 1097.5 205.1 1097.7 207.1 1097.9 196.5 1098.2 198.5 1098.4 201.4 1098.6 206.6 1098.9 197.3 1099.1 198.4 1099.3 199.7 1099.6 198.8 1099.8 200.5 1100.1 193.4 1100.3 194.5 1100.5 182.5 1100.8 185.7 1101.0 198.4 1101.2 206.3 1101.5 192.5 1101.7 202.2 1101.9 184.6 1102.2 208.3 1102.4 201.1 1102.6 184.3 1102.9 198.0 1103.1 191.6 1103.3 192.1 1103.6 201.6 1103.8 190.5 1104.0 204.3 1104.3 182.5 1104.5 178.6 1104.8 199.5 1105.0 194.7 1105.2 205.8 1105.5 185.6 1105.7 204.8 1105.9 203.6 1106.2 202.6 1106.4 205.1 1106.6 208.6 1106.9 200.4 1107.1 201.8 1107.3 199.0 1107.6 220.5 1107.8 205.0 1108.0 200.7 1108.3 198.3 1108.5 205.3 1108.8 198.6 1109.0 200.1 1109.2 187.9 1109.5 192.1 1109.7 193.4 1109.9 188.3 1110.2 203.2 1110.4 184.8 1110.6 196.5 1110.9 202.2 1111.1 194.3 1111.3 183.3 1111.6 180.3 1111.8 195.7 1112.0 232.5 1112.3 207.2 1112.5 202.4 1112.7 202.8 1113.0 193.7 1113.2 189.2 1113.5 187.7 1113.7 192.7 1113.9 205.9 1114.2 186.6 1114.4 185.4 1114.6 214.1 1114.9 203.0 1115.1 201.3 1115.3 204.8 1115.6 187.2 1115.8 193.4 1116.0 197.7 1116.3 208.5 1116.5 215.5 1116.7 206.2 1117.0 205.4 1117.2 206.0 1117.4 216.3 1117.7 211.4 1117.9 202.2 1118.2 194.8 1118.4 203.1 1118.6 200.5 1118.9 199.2 1119.1 199.2 1119.3 185.0 1119.6 205.5 1119.8 196.3 1120.0 210.1 1120.3 185.2 1120.5 190.3 1120.7 187.3 1121.0 197.3 1121.2 199.6 1121.4 209.8 1121.7 195.0 1121.9 183.0 1122.1 222.9 1122.4 178.4 1122.6 205.8 1122.9 193.1 1123.1 205.7 1123.3 199.9 1123.6 189.1 1123.8 200.2 1124.0 177.6 1124.3 178.3 1124.5 191.0 1124.7 204.0 1125.0 203.0 1125.2 202.1 1125.4 192.7 1125.7 179.1 1125.9 198.1 1126.1 210.0 1126.4 204.0 1126.6 309.5 1126.9 192.8 1127.1 170.3 1127.3 208.1 1127.6 201.7 1127.8 187.5 1128.0 193.1 1128.3 203.6 1128.5 189.6 1128.7 193.9 1129.0 203.5 1129.2 196.3 1129.4 176.3 1129.7 208.5 1129.9 186.4 1130.1 199.8 1130.4 191.0 1130.6 193.7 1130.8 195.1 1131.1 199.9 1131.3 198.5 1131.6 190.4 1131.8 193.0 1132.0 211.8 1132.3 193.0 1132.5 232.5 1132.7 187.8 1133.0 196.0 1133.2 215.2 1133.4 191.4 1133.7 190.5 1133.9 180.9 1134.1 207.3 1134.4 200.6 1134.6 203.4 1134.8 201.0 1135.1 214.4 1135.3 202.9 1135.5 202.5 1135.8 170.3 1136.0 179.2 1136.3 204.4 1136.5 202.7 1136.7 185.0 1137.0 203.8 1137.2 184.0 1137.4 193.1 1137.7 204.5 1137.9 205.2 1138.1 196.9 1138.4 200.4 1138.6 197.5 1138.8 204.0 1139.1 191.4 1139.3 204.9 1139.5 203.0 1139.8 200.3 1140.0 210.5 1140.2 201.6 1140.5 200.6 1140.7 212.3 1141.0 215.6 1141.2 183.4 1141.4 201.2 1141.7 200.0 1141.9 151.3 1142.1 179.2 1142.4 200.6 1142.6 215.7 1142.8 192.7 1143.1 208.0 1143.3 193.3 1143.5 199.9 1143.8 182.8 1144.0 192.8 1144.2 100.0 1144.5 180.8 1144.7 166.9 1144.9 203.7 1145.2 185.0 1145.4 193.9 1145.7 192.9 1145.9 210.5 1146.1 208.0 1146.4 180.7 1146.6 196.6 1146.8 203.7 1147.1 175.7 1147.3 183.0"/>
<path class="cr bv" stroke="#FFFF00" stroke-width="1" d="M683.3 196.3 683.5 202.5 683.8 199.0 684.0 193.6 684.2 206.4 684.5 204.8 684.7 201.9 684.9 195.4 685.2 198.1 685.4 197.2 685.7 198.3 685.9 198.6 686.1 194.4 686.4 185.4 686.6 197.2 686.8 194.0 687.1 200.6 687.3 192.9 687.5 198.6 687.8 198.3 688.0 200.7 688.2 201.9 688.5 201.1 688.7 202.7 688.9 204.0 689.2 191.7 689.4 197.2 689.6 195.1 689.9 196.9 690.1 204.6 690.4 198.8 690.6 202.5 690.8 202.2 691.1 199.4 691.3 198.3 691.5 198.6 691.8 198.4 692.0 200.1 692.2 198.8 692.5 193.8 692.7 190.0 692.9 194.3 693.2 199.9 693.4 197.3 693.6 195.0 693.9 194.8 694.1 193.8 694.3 193.8 694.6 197.2 694.8 200.1 695.1 205.4 695.3 194.4 695.5 196.3 695.8 202.6 696.0 198.9 696.2 200.8 696.5 201.2 696.7 189.1 696.9 201.1 697.2 183.0 697.4 199.9 697.6 204.3 697.9 197.9 698.1 178.6 698.3 200.3 698.6 194.2 698.8 221.2 699.0 192.9 699.3 213.8 699.5 200.3 699.8 183.0 700.0 202.1 700.2 190.3 700.5 201.7 700.7 203.1 700.9 195.7 701.2 185.9 701.4 197.8 701.6 199.2 701.9 210.4 702.1 222.0 702.3 197.5 702.6 201.2 702.8 195.9 703.0 186.8 703.3 189.4 703.5 235.0 703.7 196.1 704.0 195.8 704.2 201.9 704.5 170.0 704.7 208.3 704.9 200.2 705.2 190.5 705.4 202.7 705.6 215.0 705.9 183.7 706.1 176.0 706.3 204.3 706.6 193.2 706.8 191.4 707.0 200.1 707.3 205.7 707.5 205.5 707.7 190.4 708.0 200.7 708.2 193.8 708.5 219.8 708.7 204.5 708.9 203.3 709.2 204.2 709.4 219.4 709.6 203.8 709.9 183.3 710.1 196.2 710.3 204.5 710.6 206.3 710.8 212.4 711.0 197.1 711.3 206.7 711.5 203.0 711.7 191.0 712.0 190.6 712.2 193.7 712.4 214.2 712.7 204.3 712.9 189.0 713.2 209.5 713.4 188.6 713.6 199.5 713.9 191.4 714.1 202.7 714.3 208.8 714.6 207.4 714.8 187.8 715.0 201.8 715.3 208.7 715.5 193.1 715.7 210.8 716.0 200.5 716.2 196.8 716.4 197.2 716.7 196.2 716.9 199.9 717.1 216.9 717.4 197.6 717.6 199.6 717.9 200.7 718.1 195.9 718.3 194.0 718.6 197.8 718.8 189.0 719.0 184.3 719.3 197.4 719.5 201.6 719.7 208.0 720.0 195.5 720.2 211.0 720.4 188.2 720.7 192.9 720.9 202.7 721.1 194.9 721.4 204.9 721.6 206.3 721.8 194.5 722.1 205.7 722.3 197.7 722.6 200.1 722.8 189.7 723.0 197.4 723.3 189.7 723.5 194.0 723.7 203.9 724.0 206.2 724.2 211.8 724.4 199.1 724.7 215.5 724.9 204.0 725.1 213.1 725.4 202.8 725.6 195.3 725.8 204.2 726.1 202.4 726.3 201.8 726.6 197.8 726.8 207.4 727.0 198.7 727.3 199.9 727.5 204.8 727.7 204.5 728.0 192.9 728.2 195.5 728.4 197.1 728.7 203.6 728.9 201.1 729.1 205.9 729.4 208.1 729.6 201.7 729.8 202.3 730.1 205.4 730.3 205.3 730.5 197.5 730.8 201.6 731.0 207.0 731.3 189.4 731.5 207.7 731.7 198.3 732.0 204.2 732.2 196.1 732.4 199.0 732.7 194.5 732.9 199.7 733.1 202.9 733.4 192.5 733.6 199.6 733.8 200.3 734.1 200.1 734.3 202.8 734.5 197.7 734.8 191.5 735.0 192.3 735.2 197.9 735.5 196.3 735.7 195.9 736.0 202.3 736.2 192.4 736.4 198.2 736.7 207.7 736.9 196.5 737.1 203.5 737.4 198.0 737.6 196.2 737.8 200.8 738.1 198.1 738.3 193.2 738.5 205.6 738.8 207.9 739.0 199.9 739.2 200.4 739.5 190.0 739.7 194.9 739.9 197.0 740.2 199.8 740.4 208.0 740.7 205.3 740.9 200.8 741.1 198.6 741.4 201.3 741.6 198.9 741.8 196.3 742.1 202.5 742.3 201.3 742.5 203.6 742.8 194.1 743.0 208.2 743.2 196.8 743.5 196.1 743.7 208.2 743.9 201.5 744.2 194.7 744.4 203.3 744.6 201.9 744.9 199.6 745.1 193.8 745.4 196.8 745.6 202.4 745.8 205.3 746.1 205.9 746.3 198.0 746.5 208.6 746.8 201.9 747.0 197.0 747.2 204.5 747.5 200.8 747.7 199.9 747.9 196.3 748.2 205.1 748.4 199.2 748.6 199.7 748.9 199.0 749.1 206.0 749.4 197.4 749.6 203.0 749.8 199.9 750.1 203.0 750.3 191.5 750.5 199.2 750.8 190.7 751.0 202.0 751.2 200.6 751.5 193.4 751.7 201.0 751.9 197.6 752.2 194.8 752.4 200.9 752.6 202.2 752.9 200.4 753.1 195.3 753.3 197.7 753.6 194.2 753.8 200.5 754.1 201.3 754.3 203.9 754.5 200.6 754.8 201.8 755.0 199.9 755.2 203.2 755.5 202.3 755.7 200.6 755.9 195.6 756.2 200.7 756.4 201.7 756.6 195.4 756.9 194.1 757.1 200.6 757.3 200.4 757.6 206.5 757.8 205.5 758.0 199.6 758.3 194.0 758.5 192.3 758.8 196.2 759.0 201.3 759.2 197.4 759.5 205.0 759.7 199.7 759.9 203.9 760.2 199.4 760.4 193.9 760.6 191.1 760.9 198.6 761.1 197.9 761.3 205.6 761.6 201.8 761.8 193.6 762.0 195.0 762.3 196.2 762.5 197.7 762.7 193.2 763.0 200.3 763.2 200.1 763.5 188.9 763.7 202.5 763.9 197.7 764.2 200.7 764.4 193.8 764.6 200.3 764.9 200.6 765.1 200.5 765.3 196.4 765.6 203.0 765.8 204.8 766.0 199.8 766.3 200.7 766.5 197.4 766.7 200.6 767.0 201.6 767.2 198.3 767.4 197.8 767.7 195.6 767.9 199.1 768.2 206.0 768.4 199.5 768.6 199.3 768.9 199.7 769.1 197.4 769.3 200.4 769.6 195.3 769.8 200.4 770.0 194.2 770.3 203.4 770.5 208.0 770.7 202.9 771.0 188.9 771.2 200.3 771.4 199.7 771.7 198.3 771.9 200.9 772.2 198.4 772.4 198.9 772.6 191.7 772.9 194.9 773.1 198.3 773.3 196.7 773.6 197.1 773.8 203.3 774.0 195.2 774.3 201.6 774.5 196.4 774.7 198.7 775.0 195.9 775.2 194.0 775.4 197.1 775.7 201.0 775.9 200.4 776.1 197.2 776.4 200.8 776.6 200.7 776.9 199.7 777.1 200.6 777.3 197.3 777.6 200.9 777.8 198.9 778.0 201.9 778.3 205.6 778.5 196.3 778.7 195.6 779.0 201.1 779.2 196.3 779.4 198.1 779.7 203.5 779.9 194.9 780.1 206.6 780.4 199.4 780.6 196.6 780.8 203.3 781.1 193.3 781.3 201.4 781.6 194.6 781.8 199.9 782.0 196.7 782.3 199.4 782.5 190.5 782.7 197.7 783.0 195.4 783.2 196.5 783.4 198.4 783.7 200.1 783.9 197.6 784.1 195.5 784.4 195.8 784.6 197.1 784.8 199.6 785.1 196.5 785.3 202.7 785.5 199.1 785.8 206.6 786.0 201.6 786.3 199.6 786.5 204.2 786.7 203.2 787.0 195.6 787.2 197.2 787.4 195.0 787.7 194.7 787.9 196.6 788.1 196.0 788.4 197.9 788.6 194.2 788.8 204.6 789.1 199.6 789.3 195.1 789.5 195.8 789.8 198.7 790.0 200.1 790.3 195.8 790.5 199.5 790.7 203.0 791.0 194.6 791.2 200.3 791.4 198.2 791.7 204.9 791.9 208.3 792.1 197.3 792.4 192.8 792.6 207.3 792.8 200.8 793.1 196.9 793.3 198.2 793.5 198.7 793.8 199.0 794.0 202.5 794.2 194.9 794.5 195.4 794.7 197.6 795.0 207.4 795.2 192.8 795.4 199.1 795.7 197.0 795.9 191.9 796.1 194.1 796.4 199.3 796.6 195.0 796.8 196.7 797.1 201.1 797.3 198.4 797.5 205.4 797.8 204.7 798.0 198.2 798.2 193.7 798.5 202.5 798.7 194.5 798.9 198.4 799.2 192.3 799.4 200.2 799.7 188.0 799.9 197.2 800.1 199.8 800.4 198.0 800.6 205.6 800.8 197.6 801.1 200.1 801.3 197.0 801.5 200.1 801.8 208.9 802.0 208.5 802.2 201.3 802.5 203.6 802.7 195.7 802.9 202.9 803.2 197.3 803.4 199.6 803.6 193.3 803.9 198.6 804.1 198.2 804.4 202.7 804.6 197.6 804.8 196.5 805.1 199.4 805.3 196.4 805.5 202.8 805.8 199.8 806.0 197.5 806.2 200.1 806.5 194.5 806.7 196.6 806.9 201.3 807.2 202.4 807.4 199.0 807.6 201.7 807.9 200.4 808.1 203.1 808.3 196.1 808.6 198.3 808.8 197.9 809.1 196.0 809.3 207.4 809.5 198.8 809.8 199.9 810.0 196.5 810.2 197.1 810.5 197.0 810.7 194.2 810.9 205.9 811.2 202.9 811.4 194.5 811.6 193.7 811.9 202.0 812.1 194.8 812.3 195.8 812.6 204.0 812.8 201.2 813.1 197.7 813.3 199.2 813.5 192.3 813.8 196.7 814.0 195.7 814.2 201.4 814.5 203.5 814.7 201.2 814.9 193.8 815.2 192.2 815.4 202.0 815.6 199.5 815.9 208.1 816.1 194.2 816.3 203.6 816.6 195.7 816.8 194.2 817.0 203.9 817.3 202.2 817.5 196.3 817.8 194.0 818.0 200.9 818.2 202.8 818.5 197.7 818.7 194.3 818.9 203.1 819.2 201.9 819.4 194.7 819.6 198.3 819.9 202.0 820.1 199.0 820.3 197.2 820.6 195.2 820.8 197.9 821.0 199.0 821.3 205.2 821.5 197.0 821.7 197.1 822.0 198.2 822.2 198.9 822.5 198.6 822.7 195.5 822.9 200.4 823.2 203.5 823.4 195.7 823.6 200.4 823.9 200.0 824.1 197.4 824.3 199.9 824.6 199.3 824.8 203.1 825.0 194.2 825.3 203.9 825.5 194.2 825.7 203.7 826.0 201.6 826.2 200.6 826.4 195.8 826.7 198.3 826.9 200.7 827.2 203.6 827.4 195.4 827.6 198.9 827.9 197.5 828.1 199.7 828.3 200.9 828.6 196.6 828.8 197.9 829.0 194.8 829.3 198.3 829.5 204.2 829.7 196.2 830.0 198.8 830.2 199.9 830.4 210.4 830.7 202.2 830.9 198.4 831.2 201.3 831.4 198.1 831.6 196.8 831.9 199.1 832.1 202.5 832.3 197.4 832.6 197.7 832.8 199.9 833.0 206.0 833.3 203.6 833.5 196.1 833.7 200.0 834.0 205.6 834.2 199.7 834.4 198.9 834.7 196.7 834.9 197.5 835.1 197.7 835.4 201.9 835.6 205.2 835.9 201.3 836.1 194.0 836.3 204.6 836.6 195.8 836.8 204.6 837.0 203.9 837.3 198.7 837.5 202.1 837.7 200.0 838.0 203.3 838.2 198.6 838.4 196.0 838.7 204.5 838.9 197.1 839.1 197.7 839.4 196.2 839.6 207.5 839.8 195.8 840.1 203.4 840.3 200.1 840.6 200.8 840.8 202.9 841.0 202.3 841.3 201.8 841.5 198.5 841.7 196.5 842.0 200.2 842.2 196.3 842.4 198.6 842.7 194.9 842.9 204.0 843.1 198.6 843.4 199.3 843.6 198.7 843.8 197.9 844.1 196.2 844.3 198.6 844.5 197.3 844.8 200.2 845.0 199.7 845.3 201.5 845.5 195.2 845.7 196.3 846.0 194.5 846.2 200.9 846.4 199.8 846.7 190.1 846.9 195.2 847.1 204.5 847.4 196.5 847.6 197.9 847.8 200.4 848.1 200.2 848.3 202.3 848.5 201.1 848.8 202.0 849.0 203.4 849.2 200.6 849.5 202.4 849.7 196.6 850.0 195.4 850.2 199.7 850.4 200.4 850.7 196.8 850.9 199.6 851.1 191.8 851.4 208.9 851.6 207.7 851.8 203.2 852.1 197.4 852.3 196.3 852.5 200.9 852.8 199.1 853.0 200.2 853.2 197.4 853.5 191.7 853.7 207.5 854.0 191.0 854.2 195.3 854.4 200.3 854.7 197.3 854.9 199.2 855.1 197.4 855.4 197.4 855.6 196.3 855.8 202.8 856.1 196.9 856.3 201.5 856.5 200.2 856.8 196.2 857.0 200.7 857.2 198.0 857.5 197.9 857.7 198.7 857.9 203.6 858.2 197.3 858.4 198.4 858.7 190.9 858.9 202.9 859.1 195.2 859.4 200.6 859.6 200.2 859.8 192.8 860.1 199.5 860.3 196.1 860.5 198.6 860.8 202.4 861.0 199.8 861.2 200.6 861.5 199.9 861.7 192.2 861.9 197.3 862.2 205.4 862.4 192.1 862.6 197.6 862.9 195.7 863.1 193.3 863.4 202.0 863.6 197.8 863.8 199.5 864.1 200.3 864.3 200.1 864.5 198.6 864.8 194.7 865.0 196.1 865.2 197.9 865.5 194.6 865.7 207.5 865.9 198.9 866.2 197.7 866.4 197.8 866.6 193.8 866.9 198.3 867.1 193.9 867.3 199.6 867.6 196.4 867.8 198.6 868.1 199.9 868.3 197.1 868.5 196.9 868.8 202.2 869.0 195.5 869.2 199.9 869.5 198.6 869.7 208.8 869.9 199.0 870.2 206.0 870.4 195.8 870.6 201.8 870.9 200.6 871.1 199.6 871.3 203.8 871.6 198.9 871.8 203.5 872.0 199.7 872.3 195.8 872.5 194.2 872.8 193.7 873.0 199.8 873.2 202.5 873.5 197.2 873.7 193.2 873.9 202.2 874.2 194.0 874.4 199.5 874.6 208.7 874.9 198.7 875.1 192.1 875.3 196.3 875.6 195.0 875.8 197.5 876.0 205.1 876.3 207.6 876.5 202.9 876.8 200.4 877.0 202.7 877.2 201.9 877.5 196.1 877.7 193.6 877.9 205.2 878.2 202.9 878.4 199.3 878.6 199.7 878.9 207.6 879.1 188.2 879.3 196.4 879.6 197.7 879.8 206.1 880.0 197.9 880.3 203.3 880.5 197.1 880.7 197.9 881.0 198.8 881.2 197.4 881.5 201.1 881.7 198.3 881.9 207.8 882.2 196.3 882.4 199.7 882.6 189.6 882.9 198.6 883.1 207.6 883.3 193.3 883.6 201.7 883.8 203.1 884.0 199.2 884.3 194.2 884.5 191.8 884.7 200.4 885.0 198.2 885.2 198.2 885.4 201.4 885.7 200.9 885.9 199.5 886.2 199.2 886.4 195.1 886.6 206.1 886.9 197.2 887.1 197.6 887.3 193.9 887.6 200.4 887.8 200.4 888.0 198.6 888.3 201.1 888.5 201.2 888.7 201.5 889.0 201.5 889.2 202.8 889.4 201.3 889.7 201.9 889.9 201.7 890.1 204.0 890.4 195.5 890.6 197.9 890.9 199.2 891.1 203.0 891.3 196.7 891.6 199.9 891.8 199.4 892.0 198.7 892.3 199.5 892.5 195.4 892.7 202.0 893.0 201.5 893.2 198.5 893.4 199.8 893.7 197.0 893.9 195.7 894.1 194.0 894.4 195.5 894.6 200.1 894.9 199.6 895.1 200.4 895.3 194.8 895.6 199.9 895.8 202.2 896.0 202.9 896.3 196.3 896.5 202.2 896.7 208.7 897.0 196.4 897.2 197.8 897.4 196.2 897.7 195.4 897.9 197.1 898.1 197.6 898.4 198.8 898.6 201.9 898.8 206.8 899.1 206.2 899.3 197.6 899.6 196.0 899.8 198.9 900.0 201.8 900.3 196.6 900.5 199.1 900.7 198.9 901.0 200.3 901.2 203.3 901.4 202.7 901.7 197.6 901.9 193.0 902.1 192.5 902.4 199.6 902.6 197.3 902.8 199.3 903.1 198.4 903.3 197.4 903.5 195.6 903.8 203.1 904.0 192.5 904.3 199.4 904.5 202.5 904.7 190.5 905.0 202.2 905.2 199.1 905.4 201.6 905.7 194.6 905.9 208.8 906.1 197.7 906.4 204.8 906.6 193.2 906.8 191.2 907.1 195.8 907.3 201.8 907.5 194.7 907.8 190.9 908.0 198.0 908.2 200.3 908.5 193.6 908.7 203.8 909.0 200.0 909.2 199.1 909.4 198.5 909.7 194.9 909.9 199.5 910.1 203.0 910.4 204.1 910.6 199.5 910.8 197.2 911.1 195.4 911.3 196.7 911.5 204.0 911.8 196.9 912.0 201.4 912.2 194.2 912.5 200.1 912.7 200.0 912.9 201.0 913.2 195.3 913.4 199.4 913.7 188.8 913.9 194.7 914.1 203.2 914.4 199.1 914.6 195.1 914.8 196.0 915.1 196.7 915.3 198.0 915.5 204.6 915.8 204.4 916.0 196.0 916.2 201.2 916.5 198.9 916.7 196.6 916.9 205.9 917.2 205.9 917.4 197.0 917.7 201.1 917.9 200.2 918.1 194.8 918.4 199.9 918.6 199.2 918.8 197.9 919.1 205.3 919.3 192.6 919.5 197.5 919.8 201.0 920.0 194.8 920.2 202.4 920.5 201.5 920.7 203.5 920.9 199.8 921.2 201.7 921.4 198.0 921.6 201.4 921.9 198.0 922.1 197.4 922.4 197.5 922.6 197.6 922.8 198.7 923.1 202.0 923.3 206.3 923.5 197.7 923.8 204.1 924.0 197.7 924.2 199.2 924.5 199.2 924.7 199.0 924.9 196.9 925.2 202.6 925.4 197.8 925.6 194.8 925.9 195.8 926.1 194.5 926.3 200.2 926.6 199.3 926.8 190.8 927.1 196.8 927.3 197.8 927.5 194.4 927.8 203.1 928.0 199.6 928.2 196.8 928.5 199.3 928.7 191.3 928.9 196.7 929.2 194.4 929.4 203.4 929.6 199.0 929.9 199.1 930.1 196.1 930.3 196.2 930.6 199.0 930.8 195.6 931.0 186.5 931.3 198.8 931.5 203.0 931.8 191.5 932.0 189.6 932.2 197.8 932.5 192.7 932.7 212.3 932.9 195.8 933.2 200.2 933.4 183.9 933.6 197.3 933.9 186.1 934.1 200.2 934.3 200.9 934.6 202.8 934.8 207.5 935.0 203.1 935.3 190.6 935.5 210.5 935.7 198.2 936.0 190.2 936.2 196.9 936.5 194.7 936.7 196.1 936.9 194.6 937.2 214.6 937.4 186.4 937.6 195.8 937.9 203.5 938.1 201.3 938.3 200.0 938.6 193.2 938.8 208.5 939.0 209.0 939.3 209.3 939.5 191.7 939.7 205.9 940.0 221.7 940.2 207.5 940.5 180.0 940.7 202.5 940.9 204.2 941.2 190.6 941.4 198.1 941.6 205.5 941.9 182.0 942.1 205.3 942.3 206.8 942.6 210.1 942.8 188.0 943.0 197.4 943.3 196.6 943.5 191.7 943.7 198.0 944.0 194.2 944.2 188.4 944.4 197.2 944.7 193.9 944.9 197.5 945.2 197.9 945.4 190.5 945.6 195.4 945.9 197.2 946.1 209.2 946.3 203.6 946.6 202.4 946.8 198.8 947.0 196.8 947.3 197.9 947.5 199.5 947.7 197.0 948.0 197.0 948.2 194.4 948.4 207.4 948.7 193.7 948.9 189.1 949.1 193.1 949.4 200.9 949.6 203.2 949.9 199.1 950.1 192.0 950.3 197.4 950.6 208.9 950.8 215.4 951.0 197.7 951.3 186.7 951.5 206.9 951.7 202.0 952.0 198.7 952.2 197.3 952.4 194.4 952.7 207.1 952.9 198.3 953.1 202.3 953.4 194.6 953.6 196.9 953.8 193.1 954.1 205.4 954.3 204.8 954.6 202.7 954.8 201.5 955.0 202.8 955.3 205.7 955.5 202.1 955.7 207.7 956.0 193.7 956.2 201.7 956.4 205.9 956.7 198.1 956.9 207.8 957.1 197.1 957.4 201.0 957.6 189.6 957.8 196.2 958.1 203.4 958.3 194.2 958.6 198.4 958.8 195.4 959.0 216.3 959.3 201.7 959.5 201.6 959.7 191.9 960.0 205.2 960.2 197.2 960.4 200.1 960.7 207.0 960.9 202.4 961.1 196.0 961.4 200.3 961.6 200.2 961.8 199.6 962.1 198.7 962.3 197.4 962.5 199.7 962.8 207.8 963.0 200.5 963.3 198.7 963.5 189.5 963.7 205.2 964.0 189.9 964.2 202.5 964.4 189.7 964.7 211.6 964.9 201.0 965.1 213.4 965.4 208.1 965.6 202.0 965.8 196.4 966.1 204.0 966.3 197.8 966.5 204.3 966.8 189.7 967.0 202.7 967.2 187.8 967.5 188.9 967.7 204.5 968.0 196.3 968.2 201.9 968.4 191.1 968.7 197.5 968.9 189.2 969.1 200.3 969.4 200.9 969.6 203.5 969.8 198.6 970.1 197.1 970.3 198.9 970.5 197.7 970.8 195.4 971.0 199.7 971.2 202.5 971.5 204.3 971.7 202.0 971.9 200.9 972.2 194.3 972.4 194.8 972.7 202.7 972.9 196.4 973.1 203.4 973.4 195.4 973.6 206.6 973.8 194.8 974.1 200.0 974.3 198.1 974.5 199.6 974.8 203.7 975.0 198.6 975.2 199.1 975.5 195.9 975.7 196.5 975.9 193.9 976.2 196.8 976.4 204.0 976.6 195.8 976.9 204.2 977.1 202.1 977.4 198.8 977.6 202.6 977.8 200.8 978.1 194.9 978.3 201.7 978.5 202.9 978.8 204.5 979.0 187.3 979.2 201.0 979.5 199.0 979.7 198.9 979.9 194.5 980.2 201.5 980.4 202.8 980.6 200.7 980.9 202.3 981.1 205.0 981.4 206.8 981.6 198.9 981.8 200.8 982.1 193.4 982.3 201.2 982.5 200.5 982.8 194.1 983.0 206.0 983.2 195.9 983.5 202.4 983.7 203.7 983.9 197.6 984.2 198.6 984.4 203.7 984.6 198.1 984.9 192.8 985.1 195.8 985.3 198.6 985.6 201.3 985.8 199.4 986.1 197.2 986.3 200.0 986.5 197.2 986.8 195.2 987.0 205.0 987.2 198.4 987.5 197.1 987.7 200.1 987.9 201.6 988.2 193.1 988.4 199.4 988.6 199.4 988.9 201.2 989.1 200.2 989.3 200.2 989.6 199.5 989.8 204.9 990.0 205.4 990.3 201.5 990.5 200.4 990.8 201.3 991.0 196.3 991.2 199.2 991.5 196.3 991.7 198.2 991.9 207.7 992.2 197.3 992.4 193.5 992.6 198.5 992.9 199.3 993.1 203.5 993.3 198.2 993.6 203.0 993.8 205.7 994.0 198.2 994.3 195.9 994.5 200.2 994.7 199.7 995.0 201.6 995.2 193.1 995.5 197.7 995.7 200.4 995.9 200.2 996.2 198.6 996.4 195.0 996.6 201.1 996.9 202.4 997.1 197.9 997.3 199.6 997.6 204.6 997.8 199.6 998.0 200.3 998.3 200.6 998.5 198.6 998.7 198.2 999.0 193.0 999.2 196.8 999.4 196.0 999.7 200.8 999.9 199.1 1000.2 201.6 1000.4 201.6 1000.6 196.1 1000.9 191.3 1001.1 196.6 1001.3 197.7 1001.6 197.2 1001.8 196.3 1002.0 199.4 1002.3 199.3 1002.5 196.9 1002.7 193.4 1003.0 198.8 1003.2 204.9 1003.4 196.4 1003.7 198.4 1003.9 201.9 1004.2 202.0 1004.4 210.1 1004.6 201.8 1004.9 199.9 1005.1 197.4 1005.3 199.3 1005.6 202.5 1005.8 200.5 1006.0 199.0 1006.3 197.1 1006.5 198.1 1006.7 196.2 1007.0 205.5 1007.2 198.4 1007.4 198.1 1007.7 202.2 1007.9 198.4 1008.1 200.8 1008.4 203.1 1008.6 203.3 1008.9 197.3 1009.1 197.2 1009.3 195.5 1009.6 196.6 1009.8 197.5 1010.0 202.5 1010.3 199.7 1010.5 199.9 1010.7 192.6 1011.0 201.8 1011.2 203.2 1011.4 202.2 1011.7 195.9 1011.9 201.0 1012.1 196.7 1012.4 200.6 1012.6 195.8 1012.8 203.8 1013.1 200.4 1013.3 197.2 1013.6 199.7 1013.8 201.8 1014.0 194.6 1014.3 203.3 1014.5 201.6 1014.7 195.6 1015.0 193.8 1015.2 199.0 1015.4 202.8 1015.7 202.9 1015.9 201.6 1016.1 199.3 1016.4 195.1 1016.6 196.3 1016.8 196.2 1017.1 200.5 1017.3 196.8 1017.5 196.7 1017.8 196.5 1018.0 199.1 1018.3 200.2 1018.5 195.8 1018.7 194.5 1019.0 199.6 1019.2 198.0 1019.4 195.9 1019.7 194.7 1019.9 194.0 1020.1 198.9 1020.4 195.4 1020.6 202.3 1020.8 205.1 1021.1 200.2 1021.3 198.0 1021.5 203.1 1021.8 199.4 1022.0 198.5 1022.3 199.0 1022.5 198.3 1022.7 195.9 1023.0 199.7 1023.2 200.2 1023.4 197.5 1023.7 196.1 1023.9 200.2 1024.1 195.4 1024.4 197.0 1024.6 200.0 1024.8 199.1 1025.1 201.1 1025.3 197.2 1025.5 198.7 1025.8 193.9 1026.0 205.7 1026.2 202.1 1026.5 200.3 1026.7 197.7 1027.0 199.9 1027.2 200.8 1027.4 197.9 1027.7 200.1 1027.9 198.4 1028.1 196.8 1028.4 196.6 1028.6 202.8 1028.8 200.8 1029.1 197.9 1029.3 199.4 1029.5 200.9 1029.8 197.5 1030.0 198.8 1030.2 197.9 1030.5 196.8 1030.7 199.9 1030.9 196.5 1031.2 198.5 1031.4 198.3 1031.7 196.5 1031.9 202.8 1032.1 203.0 1032.4 201.7 1032.6 196.9 1032.8 198.7 1033.1 200.3 1033.3 201.5 1033.5 203.1 1033.8 198.3 1034.0 199.0 1034.2 198.1 1034.5 196.8 1034.7 198.3 1034.9 195.7 1035.2 200.0 1035.4 195.4 1035.6 198.0 1035.9 200.3 1036.1 198.6 1036.4 193.8 1036.6 202.0 1036.8 200.4 1037.1 200.0 1037.3 198.6 1037.5 198.8 1037.8 194.5 1038.0 199.5 1038.2 197.4 1038.5 200.2 1038.7 201.7 1038.9 199.4 1039.2 199.6 1039.4 197.4 1039.6 195.8 1039.9 200.1 1040.1 196.4 1040.3 201.4 1040.6 194.8 1040.8 202.5 1041.1 200.2 1041.3 198.4 1041.5 199.9 1041.8 201.7 1042.0 197.3 1042.2 201.4 1042.5 196.7 1042.7 202.5 1042.9 196.6 1043.2 197.1 1043.4 197.8 1043.6 196.5 1043.9 199.5 1044.1 199.2 1044.3 196.3 1044.6 201.5 1044.8 199.7 1045.1 199.6 1045.3 199.6 1045.5 199.7 1045.8 204.9 1046.0 199.1 1046.2 198.4 1046.5 196.1 1046.7 197.2 1046.9 200.5 1047.2 199.7 1047.4 201.3 1047.6 199.9 1047.9 200.5 1048.1 196.5 1048.3 198.2 1048.6 197.7 1048.8 200.0 1049.0 199.5 1049.3 197.9 1049.5 201.0 1049.8 197.9 1050.0 197.0 1050.2 200.5 1050.5 199.1 1050.7 201.1 1050.9 195.1 1051.2 198.0 1051.4 196.5 1051.6 199.6 1051.9 201.1 1052.1 199.3 1052.3 195.8 1052.6 195.2 1052.8 197.2 1053.0 199.1 1053.3 198.1 1053.5 196.4 1053.7 201.5 1054.0 196.9 1054.2 201.0 1054.5 198.4 1054.7 197.2 1054.9 198.3 1055.2 198.7 1055.4 195.9 1055.6 199.9 1055.9 199.8 1056.1 201.2 1056.3 198.5 1056.6 197.2 1056.8 199.2 1057.0 203.5 1057.3 197.9 1057.5 197.5 1057.7 201.0 1058.0 199.5 1058.2 198.9 1058.4 200.8 1058.7 198.3 1058.9 198.8 1059.2 201.7 1059.4 205.5 1059.6 201.2 1059.9 195.6 1060.1 196.1 1060.3 199.7 1060.6 201.5 1060.8 195.6 1061.0 197.3 1061.3 196.0 1061.5 194.6 1061.7 197.9 1062.0 198.8 1062.2 200.8 1062.4 198.6 1062.7 201.3 1062.9 196.4 1063.2 199.5 1063.4 195.2 1063.6 199.8 1063.9 197.9 1064.1 200.8 1064.3 196.9 1064.6 200.9 1064.8 195.9 1065.0 197.7 1065.3 203.4 1065.5 202.3 1065.7 198.4 1066.0 199.1 1066.2 194.2 1066.4 201.1 1066.7 199.5 1066.9 199.0 1067.1 198.4 1067.4 194.9 1067.6 199.2 1067.9 202.8 1068.1 195.2 1068.3 198.0 1068.6 202.5 1068.8 200.6 1069.0 199.7 1069.3 198.7 1069.5 197.1 1069.7 199.6 1070.0 200.2 1070.2 201.3 1070.4 199.4 1070.7 198.8 1070.9 197.9 1071.1 204.1 1071.4 201.1 1071.6 197.8 1071.8 194.9 1072.1 196.8 1072.3 204.4 1072.6 203.6 1072.8 197.6 1073.0 198.9 1073.3 198.8 1073.5 194.3 1073.7 201.5 1074.0 196.1 1074.2 198.7 1074.4 200.4 1074.7 204.0 1074.9 201.8 1075.1 195.2 1075.4 198.7 1075.6 196.7 1075.8 197.3 1076.1 199.5 1076.3 196.2 1076.5 197.9 1076.8 199.6 1077.0 200.2 1077.3 201.8 1077.5 197.8 1077.7 199.8 1078.0 194.1 1078.2 200.4 1078.4 203.3 1078.7 208.1 1078.9 195.1 1079.1 185.9 1079.4 199.2 1079.6 211.3 1079.8 193.7 1080.1 202.9 1080.3 194.8 1080.5 196.7 1080.8 194.4 1081.0 198.2 1081.2 200.8 1081.5 191.7 1081.7 201.0 1082.0 190.6 1082.2 203.2 1082.4 197.9 1082.7 204.2 1082.9 192.6 1083.1 203.6 1083.4 204.5 1083.6 192.7 1083.8 196.8 1084.1 221.7 1084.3 205.3 1084.5 199.3 1084.8 196.5 1085.0 194.9 1085.2 203.3 1085.5 196.0 1085.7 210.1 1086.0 198.7 1086.2 204.2 1086.4 195.0 1086.7 201.4 1086.9 186.6 1087.1 198.2 1087.4 197.3 1087.6 211.0 1087.8 206.3 1088.1 193.7 1088.3 202.6 1088.5 193.3 1088.8 202.7 1089.0 196.0 1089.2 203.1 1089.5 196.9 1089.7 195.7 1089.9 194.6 1090.2 202.7 1090.4 205.4 1090.7 196.4 1090.9 198.0 1091.1 195.9 1091.4 204.8 1091.6 195.6 1091.8 199.9 1092.1 204.0 1092.3 201.2 1092.5 194.9 1092.8 198.3 1093.0 198.4 1093.2 198.7 1093.5 200.8 1093.7 193.7 1093.9 198.9 1094.2 205.3 1094.4 205.2 1094.6 201.4 1094.9 200.6 1095.1 196.0 1095.4 209.9 1095.6 195.9 1095.8 194.2 1096.1 201.0 1096.3 193.9 1096.5 201.8 1096.8 199.7 1097.0 201.0 1097.2 192.7 1097.5 194.5 1097.7 194.7 1097.9 203.4 1098.2 198.6 1098.4 203.3 1098.6 198.4 1098.9 196.9 1099.1 193.9 1099.3 199.5 1099.6 198.1 1099.8 199.5 1100.1 202.9 1100.3 193.0 1100.5 197.6 1100.8 193.9 1101.0 196.0 1101.2 203.4 1101.5 201.1 1101.7 196.6 1101.9 196.1 1102.2 196.7 1102.4 199.0 1102.6 196.1 1102.9 202.2 1103.1 199.8 1103.3 202.7 1103.6 195.8 1103.8 197.8 1104.0 196.8 1104.3 199.8 1104.5 206.9 1104.8 201.4 1105.0 198.5 1105.2 198.8 1105.5 196.2 1105.7 195.6 1105.9 200.7 1106.2 196.6 1106.4 204.3 1106.6 197.0 1106.9 205.4 1107.1 197.5 1107.3 206.0 1107.6 197.5 1107.8 194.1 1108.0 199.5 1108.3 196.8 1108.5 195.6 1108.8 207.2 1109.0 204.9 1109.2 198.9 1109.5 202.4 1109.7 200.2 1109.9 190.6 1110.2 193.3 1110.4 197.0 1110.6 201.0 1110.9 197.3 1111.1 197.9 1111.3 199.4 1111.6 193.8 1111.8 204.8 1112.0 194.1 1112.3 200.2 1112.5 194.9 1112.7 199.3 1113.0 200.7 1113.2 201.0 1113.5 198.1 1113.7 197.8 1113.9 189.5 1114.2 194.0 1114.4 199.0 1114.6 202.7 1114.9 198.6 1115.1 197.1 1115.3 204.2 1115.6 198.9 1115.8 194.9 1116.0 200.3 1116.3 203.9 1116.5 196.5 1116.7 193.9 1117.0 199.5 1117.2 198.4 1117.4 195.2 1117.7 197.2 1117.9 201.0 1118.2 199.9 1118.4 199.1 1118.6 198.8 1118.9 194.8 1119.1 202.5 1119.3 197.4 1119.6 199.4 1119.8 206.8 1120.0 195.9 1120.3 198.2 1120.5 204.2 1120.7 206.4 1121.0 194.7 1121.2 191.3 1121.4 198.4 1121.7 199.8 1121.9 195.3 1122.1 202.0 1122.4 201.4 1122.6 194.0 1122.9 204.7 1123.1 192.7 1123.3 197.2 1123.6 191.6 1123.8 209.0 1124.0 191.4 1124.3 199.3 1124.5 195.1 1124.7 203.4 1125.0 204.6 1125.2 192.1 1125.4 196.0 1125.7 195.5 1125.9 194.8 1126.1 195.2 1126.4 208.0 1126.6 200.5 1126.9 200.7 1127.1 186.8 1127.3 190.7 1127.6 204.0 1127.8 207.6 1128.0 194.4 1128.3 195.2 1128.5 190.3 1128.7 205.7 1129.0 188.5 1129.2 197.4 1129.4 190.7 1129.7 196.9 1129.9 201.2 1130.1 203.5 1130.4 190.1 1130.6 218.7 1130.8 191.8 1131.1 194.3 1131.3 203.0 1131.6 193.7 1131.8 199.4 1132.0 206.9 1132.3 200.5 1132.5 194.9 1132.7 198.4 1133.0 203.6 1133.2 194.3 1133.4 193.9 1133.7 190.7 1133.9 197.3 1134.1 188.9 1134.4 203.5 1134.6 201.6 1134.8 208.3 1135.1 199.3 1135.3 198.4 1135.5 199.0 1135.8 207.5 1136.0 216.0 1136.3 210.4 1136.5 205.3 1136.7 175.0 1137.0 191.8 1137.2 193.5 1137.4 200.3 1137.7 196.7 1137.9 207.6 1138.1 206.4 1138.4 205.6 1138.6 196.8 1138.8 201.6 1139.1 197.9 1139.3 205.9 1139.5 207.6 1139.8 196.3 1140.0 197.2 1140.2 196.3 1140.5 202.8 1140.7 197.4 1141.0 208.1 1141.2 205.3 1141.4 197.2 1141.7 204.3 1141.9 205.7 1142.1 204.1 1142.4 190.2 1142.6 201.2 1142.8 197.4 1143.1 199.8 1143.3 186.9 1143.5 199.4 1143.8 193.9 1144.0 194.4 1144.2 196.9 1144.5 198.8 1144.7 205.7 1144.9 196.3 1145.2 189.3 1145.4 196.5 1145.7 190.2 1145.9 195.8 1146.1 195.1 1146.4 200.7 1146.6 199.3 1146.8 196.9 1147.1 194.5 1147.3 202.7"/>
<rect class="ax" x="665.5" y="65.5" width="501.0" height="253.0"/>
<path class="ax" d="M725.5 318.5v8.5M843.3 318.5v8.5M961.0 318.5v8.5M1078.7 318.5v8.5"/>
<text class="m" x="725.5" y="347.5">2012</text>
<text class="m" x="843.3" y="347.5">2014</text>
<text class="m" x="961.0" y="347.5">2016</text>
<text class="m" x="1078.7" y="347.5">2018</text>
<path class="ax" d="M665.5 301.0h-8.5M665.5 250.0h-8.5M665.5 199.0h-8.5M665.5 148.0h-8.5M665.5 97.0h-8.5"/>
<text class="m" transform="translate(646.7 301.0) rotate(-90)">-0.2</text>
<text class="m" transform="translate(646.7 250.0) rotate(-90)">-0.1</text>
<text class="m" transform="translate(646.7 199.0) rotate(-90)">0.0</text>
<text class="m" transform="translate(646.7 148.0) rotate(-90)">0.1</text>
<text class="m" transform="translate(646.7 97.0) rotate(-90)">0.2</text>
<rect class="ax" x="1002.5" y="65.5" width="164" height="48" fill="#fff" style="fill:#fff"/>
<path class="cr" stroke="#0000FF" stroke-width="2" d="M1014.5 81H1038.5" style="stroke-linecap:butt"/>
<path class="cr" stroke="#FFFF00" stroke-width="1" d="M1014.5 97.5H1038.5" style="stroke-linecap:butt"/>
<text x="1050.3" y="86.7">ELLI stock return</text>
<text x="1050.3" y="102.8">GSPC stock return</text>
<text class="t" x="314.5" y="439.5">ELLI versus S&amp;P500 stock return distribution</text>
<path class="ax" stroke="#BEBEBE" style="stroke:#BEBEBE" d="M65.5 709.5H566.5"/>
<path class="cr" stroke="#228B22" stroke-width="2" d="M73.3 708.5 200.0 708.5 202.0 707.8 220.0 707.8 222.0 708.2 226.0 707.6 230.0 707.0 240.0 705.0 246.0 704.6 252.0 704.0 256.0 702.5 260.0 700.0 268.0 695.0 274.0 689.0 279.0 680.0 283.0 671.0 286.0 667.5 289.0 664.0 293.0 656.0 298.0 646.0 301.0 642.0 303.0 640.6 305.0 642.5 309.0 648.0 314.0 656.0 320.0 671.0 325.0 684.0 330.0 691.0 336.0 697.0 339.0 697.6 342.0 698.0 345.0 700.5 348.0 703.0 352.0 704.5 356.0 705.4 367.0 707.6 380.0 707.9 401.7 707.9 403.0 708.5 424.0 708.5 425.0 707.6 431.0 707.6 432.0 708.5 559.7 708.5"/>
<path class="cr" stroke="#FFA500" stroke-width="1" d="M250.0 708.5 266.0 708.0 269.0 707.2 272.0 706.0 275.0 702.0 278.0 700.0 281.0 698.0 285.0 688.0 289.0 676.0 292.0 656.0 294.0 630.0 296.0 600.0 297.4 560.0 298.5 525.0 299.6 492.0 300.8 479.5 301.8 492.0 303.0 525.0 304.0 560.0 306.0 586.0 308.0 610.0 310.0 640.0 312.0 656.0 315.0 680.0 318.0 694.0 322.0 703.0 325.0 706.0 328.0 707.6 333.0 708.6 336.0 708.0 340.0 708.5 350.0 708.5"/>
<rect class="ax" x="65.5" y="465.5" width="501.0" height="253.0"/>
<path class="ax" d="M98.3 718.5v8.5M199.5 718.5v8.5M300.5 718.5v8.5M401.5 718.5v8.5M503.3 718.5v8.5"/>
<text class="m" x="98.3" y="747.5">-0.2</text>
<text class="m" x="199.5" y="747.5">-0.1</text>
<text class="m" x="300.5" y="747.5">0.0</text>
<text class="m" x="401.5" y="747.5">0.1</text>
<text class="m" x="503.3" y="747.5">0.2</text>
<path class="ax" d="M65.5 709.0h-8.5M65.5 645.5h-8.5M65.5 582.3h-8.5M65.5 519.0h-8.5"/>
<text class="m" transform="translate(46.7 709.0) rotate(-90)">0</text>
<text class="m" transform="translate(46.7 645.5) rotate(-90)">20</text>
<text class="m" transform="translate(46.7 582.3) rotate(-90)">40</text>
<text class="m" transform="translate(46.7 519.0) rotate(-90)">60</text>
<rect class="ax" x="65.5" y="465.5" width="195" height="47.5" style="fill:#fff"/>
<path class="cr" stroke="#228B22" stroke-width="2" d="M77.5 481H101.5" style="stroke-linecap:butt"/>
<path class="cr" stroke="#FFA500" stroke-width="1" d="M77.5 497.5H101.5" style="stroke-linecap:butt"/>
<text x="113.3" y="487" style="font-size:13px">ELLI return distribution</text>
<text x="113.3" y="503" style="font-size:13px">GSPC return distribution</text>
<text class="t" x="915.5" y="439.5">ELLI versus S&amp;P500 return frequency distribution</text>
<clipPath id="c4"><rect x="665" y="465" width="502" height="254"/></clipPath>
<g clip-path="url(#c4)" style="shape-rendering:crispEdges;stroke:#000;stroke-width:1">
<rect x="683.5" y="715.5" width="5.0" height="1" fill="#0000FF"/>
<path d="M688.0 716.5H694.0" fill="none"/>
<rect x="698.5" y="715.5" width="6.0" height="1" fill="#0000FF"/>
<path d="M704.0 716.5H710.0" fill="none"/>
<path d="M714.0 716.5H720.0" fill="none"/>
<path d="M719.0 716.5H726.0" fill="none"/>
<path d="M730.0 716.5H736.0" fill="none"/>
<path d="M735.0 716.5H741.0" fill="none"/>
<rect x="746.5" y="715.5" width="5.0" height="1" fill="#0000FF"/>
<path d="M751.0 716.5H757.0" fill="none"/>
<rect x="761.5" y="715.5" width="5.0" height="1" fill="#0000FF"/>
<path d="M766.0 716.5H773.0" fill="none"/>
<rect x="777.5" y="715.5" width="5.0" height="1" fill="#0000FF"/>
<path d="M782.0 716.5H788.0" fill="none"/>
<rect x="793.5" y="715.5" width="5.0" height="1" fill="#0000FF"/>
<path d="M798.0 716.5H804.0" fill="none"/>
<rect x="808.5" y="714.5" width="5.0" height="2" fill="#0000FF"/>
<path d="M813.0 716.5H820.0" fill="none"/>
<rect x="824.5" y="713.5" width="5.0" height="3" fill="#0000FF"/>
<rect x="829.5" y="715.5" width="5.0" height="1" fill="#FFFF00"/>
<rect x="840.5" y="706.5" width="5.0" height="10" fill="#0000FF"/>
<rect x="845.5" y="715.5" width="5.0" height="1" fill="#FFFF00"/>
<rect x="855.5" y="692.5" width="6.0" height="24" fill="#0000FF"/>
<rect x="861.5" y="713.5" width="5.0" height="3" fill="#FFFF00"/>
<rect x="871.5" y="651.5" width="5.0" height="65" fill="#0000FF"/>
<rect x="876.5" y="696.5" width="5.0" height="20" fill="#FFFF00"/>
<rect x="887.5" y="597.5" width="5.0" height="119" fill="#0000FF"/>
<rect x="892.5" y="524.5" width="5.0" height="192" fill="#FFFF00"/>
<rect x="902.5" y="567.5" width="6.0" height="149" fill="#0000FF"/>
<rect x="908.5" y="461.5" width="5.0" height="255" fill="#FFFF00"/>
<rect x="918.5" y="646.5" width="5.0" height="70" fill="#0000FF"/>
<rect x="923.5" y="698.5" width="5.0" height="18" fill="#FFFF00"/>
<rect x="934.5" y="688.5" width="5.0" height="28" fill="#0000FF"/>
<rect x="939.5" y="714.5" width="5.0" height="2" fill="#FFFF00"/>
<rect x="949.5" y="708.5" width="6.0" height="8" fill="#0000FF"/>
<rect x="955.5" y="715.5" width="5.0" height="1" fill="#FFFF00"/>
<rect x="965.5" y="713.5" width="5.0" height="3" fill="#0000FF"/>
<path d="M970.0 716.5H976.0" fill="none"/>
<rect x="981.5" y="714.5" width="5.0" height="2" fill="#0000FF"/>
<path d="M986.0 716.5H992.0" fill="none"/>
<rect x="996.5" y="714.5" width="6.0" height="2" fill="#0000FF"/>
<path d="M1002.0 716.5H1008.0" fill="none"/>
<rect x="1012.5" y="715.5" width="5.0" height="1" fill="#0000FF"/>
<path d="M1017.0 716.5H1024.0" fill="none"/>
<rect x="1028.5" y="715.5" width="5.0" height="1" fill="#0000FF"/>
<path d="M1033.0 716.5H1039.0" fill="none"/>
<rect x="1043.5" y="715.5" width="6.0" height="1" fill="#0000FF"/>
<path d="M1049.0 716.5H1055.0" fill="none"/>
<rect x="1059.5" y="715.5" width="5.0" height="1" fill="#0000FF"/>
<path d="M1064.0 716.5H1071.0" fill="none"/>
<rect x="1075.5" y="715.5" width="5.0" height="1" fill="#0000FF"/>
<path d="M1080.0 716.5H1086.0" fill="none"/>
<rect x="1090.5" y="715.5" width="6.0" height="1" fill="#0000FF"/>
<path d="M1096.0 716.5H1102.0" fill="none"/>
<path d="M1106.0 716.5H1112.0" fill="none"/>
<path d="M1111.0 716.5H1118.0" fill="none"/>
<path d="M1122.0 716.5H1128.0" fill="none"/>
<path d="M1127.0 716.5H1133.0" fill="none"/>
<path d="M1138.0 716.5H1144.0" fill="none"/>
<path d="M1143.0 716.5H1149.0" fill="none"/>
</g>
<rect class="ax" x="665.5" y="465.5" width="501.0" height="253.0"/>
<path class="ax" d="M665.5 716.5h-8.5M665.5 667.5h-8.5M665.5 618.5h-8.5M665.5 569.5h-8.5M665.5 520.5h-8.5M665.5 471.5h-8.5"/>
<text class="m" transform="translate(646.7 716.5) rotate(-90)">0</text>
<text class="m" transform="translate(646.7 667.5) rotate(-90)">200</text>
<text class="m" transform="translate(646.7 618.5) rotate(-90)">400</text>
<text class="m" transform="translate(646.7 569.5) rotate(-90)">600</text>
<text class="m" transform="translate(646.7 520.5) rotate(-90)">800</text>
<text class="m" transform="translate(646.7 471.5) rotate(-90)">1000</text>
<text class="m" x="689.4" y="747.5">[-0.214,-0.199)</text>
<text class="m" x="797.9" y="747.5">[-0.107,-0.0919)</text>
<text class="m" x="923.4" y="747.5">[0.0151,0.0303)</text>
<text class="m" x="1033.5" y="747.5">[0.122,0.137)</text>
<text class="m" x="1127.0" y="747.5">[0.214,0.229)</text>
<text class="m" x="914.4" y="779.5">return</text>
<text class="m" transform="translate(615 592.5) rotate(-90)">frequency</text>
<rect class="ax" x="993.5" y="465.5" width="173" height="47.5" style="fill:#fff"/>
<rect class="ax" x="1005.5" y="477.5" width="9" height="8" style="fill:#0000FF"/>
<rect class="ax" x="1005.5" y="493.5" width="9" height="8" style="fill:#FFFF00"/>
<text x="1026.3" y="486.7" style="font-size:12.85px">ELLI return frequency</text>
<text x="1026.3" y="502.7" style="font-size:12.85px">GSPC return frequency</text>
</svg></body></html>
